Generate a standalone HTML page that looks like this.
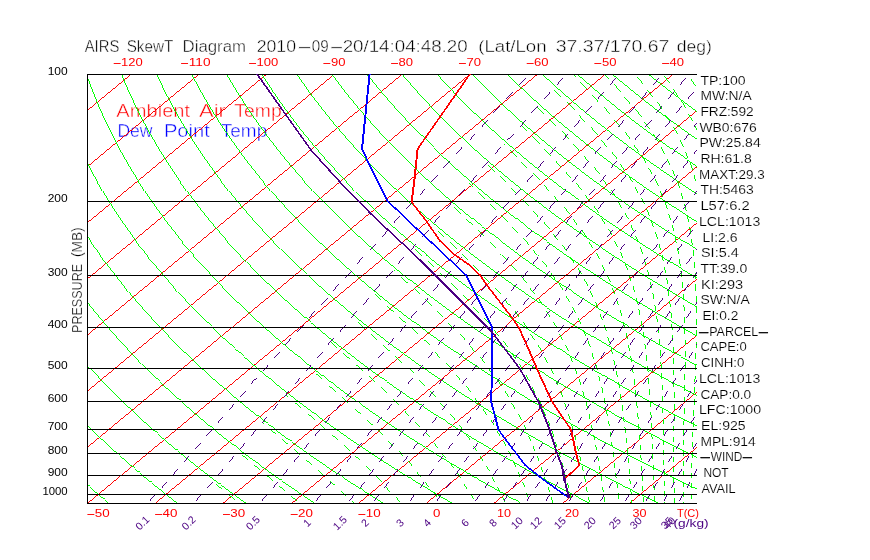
<!DOCTYPE html>
<html><head><meta charset="utf-8"><title>AIRS SkewT Diagram</title>
<style>html,body{margin:0;padding:0;background:#fff}svg{display:block}</style></head>
<body><svg width="870" height="560" viewBox="0 0 870 560" font-family="Liberation Sans, sans-serif">
<rect width="870" height="560" fill="#fff"/>
<defs><clipPath id="c"><rect x="87.0" y="74.0" width="610.0" height="430.0"/></clipPath></defs>
<g>
<text y="116.6" font-size="18.7" fill="#ff0000" stroke="#fff" stroke-width="0.45"><tspan x="116.3" textLength="79.4" lengthAdjust="spacingAndGlyphs">Ambient </tspan><tspan x="199.1" textLength="32.9" lengthAdjust="spacingAndGlyphs">Air </tspan><tspan x="234.3" textLength="47.4" lengthAdjust="spacingAndGlyphs">Temp</tspan></text>
<text y="137.4" font-size="18.7" fill="#0000ff" stroke="#fff" stroke-width="0.45"><tspan x="117.4" textLength="40.0" lengthAdjust="spacingAndGlyphs">Dew </tspan><tspan x="163.9" textLength="51.6" lengthAdjust="spacingAndGlyphs">Point </tspan><tspan x="220.8" textLength="46.4" lengthAdjust="spacingAndGlyphs">Temp</tspan></text>
</g>
<g clip-path="url(#c)" shape-rendering="crispEdges">
<path d="M-454.7 503.5 L63.1 74.5" stroke="#ff0000" stroke-width="0.99" fill="none"/>
<path d="M-387.0 503.5 L130.8 74.5" stroke="#ff0000" stroke-width="0.99" fill="none"/>
<path d="M-319.2 503.5 L198.6 74.5" stroke="#ff0000" stroke-width="0.99" fill="none"/>
<path d="M-251.5 503.5 L266.3 74.5" stroke="#ff0000" stroke-width="0.99" fill="none"/>
<path d="M-183.7 503.5 L334.1 74.5" stroke="#ff0000" stroke-width="0.99" fill="none"/>
<path d="M-116.0 503.5 L401.8 74.5" stroke="#ff0000" stroke-width="0.99" fill="none"/>
<path d="M-48.2 503.5 L469.6 74.5" stroke="#ff0000" stroke-width="0.99" fill="none"/>
<path d="M19.5 503.5 L537.3 74.5" stroke="#ff0000" stroke-width="0.99" fill="none"/>
<path d="M87.3 503.5 L605.1 74.5" stroke="#ff0000" stroke-width="0.99" fill="none"/>
<path d="M155.0 503.5 L672.8 74.5" stroke="#ff0000" stroke-width="0.99" fill="none"/>
<path d="M222.8 503.5 L740.6 74.5" stroke="#ff0000" stroke-width="0.99" fill="none"/>
<path d="M290.5 503.5 L808.3 74.5" stroke="#ff0000" stroke-width="0.99" fill="none"/>
<path d="M358.3 503.5 L876.1 74.5" stroke="#ff0000" stroke-width="0.99" fill="none"/>
<path d="M426.0 503.5 L943.8 74.5" stroke="#ff0000" stroke-width="0.99" fill="none"/>
<path d="M493.8 503.5 L1011.6 74.5" stroke="#ff0000" stroke-width="0.99" fill="none"/>
<path d="M561.5 503.5 L1079.3 74.5" stroke="#ff0000" stroke-width="0.99" fill="none"/>
<path d="M629.3 503.5 L1147.1 74.5" stroke="#ff0000" stroke-width="0.99" fill="none"/>
<path d="M697.0 503.5 L1214.8 74.5" stroke="#ff0000" stroke-width="0.99" fill="none"/>
<path d="M108.8 503.3 L106.7 501.6 L104.6 499.8 L102.5 498.0 L100.4 496.2 L98.3 494.4 L96.1 492.6 L94.0 490.7 L91.9 488.8 L89.7 487.0 L87.5 485.0 L85.4 483.1 L83.2 481.2 L81.0 479.2 L78.8 477.2 L76.6 475.2 L74.4 473.1 L72.1 471.1 L69.9 469.0 L67.6 466.9 L65.4 464.7 L63.1 462.6 L60.8 460.4 L58.5 458.2 L56.2 456.0 L53.9 453.7 L51.6 451.4 L49.3 449.1 L46.9 446.7 L44.6 444.3 L42.2 441.9 L39.8 439.5 L37.4 437.0 L35.0 434.5 L32.6 431.9 L30.2 429.3 L27.8 426.7 L25.3 424.0 L22.8 421.3 L20.4 418.6 L17.9 415.8 L15.4 413.0 L12.9 410.1 L10.3 407.2 L7.8 404.2 L5.3 401.2 L2.7 398.1 L0.1 395.0 L-2.5 391.8 L-5.1 388.6 L-7.7 385.3 L-10.3 382.0 L-13.0 378.6 L-15.6 375.1 L-18.3 371.6 L-21.0 367.9 L-23.7 364.3 L-26.4 360.5 L-29.1 356.6 L-31.8 352.7 L-34.6 348.7 L-37.3 344.6 L-40.1 340.4 L-42.9 336.1 L-45.7 331.7 L-48.5 327.2 L-51.3 322.6 L-54.1 317.9 L-57.0 313.0 L-59.8 308.0 L-62.7 302.9 L-65.5 297.6 L-68.4 292.1 L-71.3 286.5 L-74.1 280.7 L-77.0 274.7 L-79.9 268.6 L-82.8 262.2 L-85.6 255.5 L-88.5 248.6 L-91.3 241.5 L-94.1 234.0 L-96.9 226.3 L-99.7 218.2 L-102.4 209.7 L-105.0 200.8 L-107.6 191.4 L-110.2 181.5 L-112.6 171.1 L-114.9 160.1 L-117.1 148.3 L-119.0 135.7 L-120.8 122.2 L-122.2 107.6 L-123.3 91.7 L-124.0 74.3" stroke="#00ff00" stroke-width="0.99" fill="none"/>
<path d="M177.5 503.3 L175.2 501.6 L172.9 499.8 L170.6 498.0 L168.3 496.2 L166.0 494.4 L163.7 492.6 L161.4 490.7 L159.0 488.8 L156.7 487.0 L154.3 485.0 L151.9 483.1 L149.5 481.2 L147.2 479.2 L144.7 477.2 L142.3 475.2 L139.9 473.1 L137.5 471.1 L135.0 469.0 L132.5 466.9 L130.1 464.7 L127.6 462.6 L125.1 460.4 L122.6 458.2 L120.0 456.0 L117.5 453.7 L114.9 451.4 L112.4 449.1 L109.8 446.7 L107.2 444.3 L104.6 441.9 L102.0 439.5 L99.4 437.0 L96.7 434.5 L94.0 431.9 L91.4 429.3 L88.7 426.7 L86.0 424.0 L83.3 421.3 L80.5 418.6 L77.8 415.8 L75.0 413.0 L72.2 410.1 L69.4 407.2 L66.6 404.2 L63.8 401.2 L61.0 398.1 L58.1 395.0 L55.2 391.8 L52.3 388.6 L49.4 385.3 L46.5 382.0 L43.5 378.6 L40.6 375.1 L37.6 371.6 L34.6 367.9 L31.6 364.3 L28.6 360.5 L25.5 356.6 L22.4 352.7 L19.3 348.7 L16.2 344.6 L13.1 340.4 L10.0 336.1 L6.8 331.7 L3.6 327.2 L0.4 322.6 L-2.8 317.9 L-6.0 313.0 L-9.2 308.0 L-12.5 302.9 L-15.8 297.6 L-19.1 292.1 L-22.4 286.5 L-25.7 280.7 L-29.0 274.7 L-32.3 268.6 L-35.7 262.2 L-39.0 255.5 L-42.4 248.6 L-45.7 241.5 L-49.1 234.0 L-52.4 226.3 L-55.7 218.2 L-59.0 209.7 L-62.3 200.8 L-65.5 191.4 L-68.7 181.5 L-71.8 171.1 L-74.8 160.1 L-77.7 148.3 L-80.4 135.7 L-83.0 122.2 L-85.3 107.6 L-87.3 91.7 L-88.9 74.3" stroke="#00ff00" stroke-width="0.99" fill="none"/>
<path d="M246.2 503.3 L243.7 501.6 L241.2 499.8 L238.8 498.0 L236.3 496.2 L233.8 494.4 L231.2 492.6 L228.7 490.7 L226.2 488.8 L223.6 487.0 L221.1 485.0 L218.5 483.1 L215.9 481.2 L213.3 479.2 L210.7 477.2 L208.1 475.2 L205.4 473.1 L202.8 471.1 L200.1 469.0 L197.4 466.9 L194.7 464.7 L192.0 462.6 L189.3 460.4 L186.6 458.2 L183.8 456.0 L181.1 453.7 L178.3 451.4 L175.5 449.1 L172.7 446.7 L169.8 444.3 L167.0 441.9 L164.1 439.5 L161.3 437.0 L158.4 434.5 L155.5 431.9 L152.6 429.3 L149.6 426.7 L146.7 424.0 L143.7 421.3 L140.7 418.6 L137.7 415.8 L134.6 413.0 L131.6 410.1 L128.5 407.2 L125.4 404.2 L122.3 401.2 L119.2 398.1 L116.1 395.0 L112.9 391.8 L109.7 388.6 L106.5 385.3 L103.3 382.0 L100.0 378.6 L96.8 375.1 L93.5 371.6 L90.2 367.9 L86.8 364.3 L83.5 360.5 L80.1 356.6 L76.7 352.7 L73.3 348.7 L69.8 344.6 L66.3 340.4 L62.8 336.1 L59.3 331.7 L55.8 327.2 L52.2 322.6 L48.6 317.9 L45.0 313.0 L41.3 308.0 L37.7 302.9 L34.0 297.6 L30.3 292.1 L26.5 286.5 L22.8 280.7 L19.0 274.7 L15.2 268.6 L11.4 262.2 L7.6 255.5 L3.7 248.6 L-0.2 241.5 L-4.0 234.0 L-7.9 226.3 L-11.8 218.2 L-15.7 209.7 L-19.5 200.8 L-23.4 191.4 L-27.2 181.5 L-31.0 171.1 L-34.7 160.1 L-38.3 148.3 L-41.8 135.7 L-45.2 122.2 L-48.4 107.6 L-51.3 91.7 L-53.8 74.3" stroke="#00ff00" stroke-width="0.99" fill="none"/>
<path d="M314.9 503.3 L312.2 501.6 L309.6 499.8 L306.9 498.0 L304.2 496.2 L301.5 494.4 L298.8 492.6 L296.1 490.7 L293.3 488.8 L290.6 487.0 L287.8 485.0 L285.1 483.1 L282.3 481.2 L279.5 479.2 L276.6 477.2 L273.8 475.2 L271.0 473.1 L268.1 471.1 L265.2 469.0 L262.3 466.9 L259.4 464.7 L256.5 462.6 L253.5 460.4 L250.6 458.2 L247.6 456.0 L244.6 453.7 L241.6 451.4 L238.6 449.1 L235.5 446.7 L232.5 444.3 L229.4 441.9 L226.3 439.5 L223.2 437.0 L220.1 434.5 L216.9 431.9 L213.7 429.3 L210.5 426.7 L207.3 424.0 L204.1 421.3 L200.8 418.6 L197.6 415.8 L194.3 413.0 L191.0 410.1 L187.6 407.2 L184.3 404.2 L180.9 401.2 L177.5 398.1 L174.0 395.0 L170.6 391.8 L167.1 388.6 L163.6 385.3 L160.1 382.0 L156.5 378.6 L153.0 375.1 L149.4 371.6 L145.7 367.9 L142.1 364.3 L138.4 360.5 L134.7 356.6 L130.9 352.7 L127.2 348.7 L123.4 344.6 L119.6 340.4 L115.7 336.1 L111.8 331.7 L107.9 327.2 L104.0 322.6 L100.0 317.9 L96.0 313.0 L91.9 308.0 L87.9 302.9 L83.8 297.6 L79.6 292.1 L75.5 286.5 L71.3 280.7 L67.0 274.7 L62.8 268.6 L58.5 262.2 L54.1 255.5 L49.8 248.6 L45.4 241.5 L41.0 234.0 L36.6 226.3 L32.1 218.2 L27.7 209.7 L23.2 200.8 L18.8 191.4 L14.3 181.5 L9.9 171.1 L5.4 160.1 L1.1 148.3 L-3.2 135.7 L-7.4 122.2 L-11.4 107.6 L-15.2 91.7 L-18.8 74.3" stroke="#00ff00" stroke-width="0.99" fill="none"/>
<path d="M383.6 503.3 L380.7 501.6 L377.9 499.8 L375.0 498.0 L372.2 496.2 L369.3 494.4 L366.4 492.6 L363.4 490.7 L360.5 488.8 L357.6 487.0 L354.6 485.0 L351.6 483.1 L348.6 481.2 L345.6 479.2 L342.6 477.2 L339.5 475.2 L336.5 473.1 L333.4 471.1 L330.3 469.0 L327.2 466.9 L324.1 464.7 L320.9 462.6 L317.8 460.4 L314.6 458.2 L311.4 456.0 L308.2 453.7 L304.9 451.4 L301.7 449.1 L298.4 446.7 L295.1 444.3 L291.8 441.9 L288.5 439.5 L285.1 437.0 L281.7 434.5 L278.3 431.9 L274.9 429.3 L271.5 426.7 L268.0 424.0 L264.5 421.3 L261.0 418.6 L257.5 415.8 L253.9 413.0 L250.3 410.1 L246.7 407.2 L243.1 404.2 L239.4 401.2 L235.7 398.1 L232.0 395.0 L228.3 391.8 L224.5 388.6 L220.7 385.3 L216.9 382.0 L213.0 378.6 L209.2 375.1 L205.2 371.6 L201.3 367.9 L197.3 364.3 L193.3 360.5 L189.3 356.6 L185.2 352.7 L181.1 348.7 L177.0 344.6 L172.8 340.4 L168.6 336.1 L164.3 331.7 L160.0 327.2 L155.7 322.6 L151.4 317.9 L147.0 313.0 L142.5 308.0 L138.0 302.9 L133.5 297.6 L129.0 292.1 L124.4 286.5 L119.7 280.7 L115.0 274.7 L110.3 268.6 L105.5 262.2 L100.7 255.5 L95.9 248.6 L91.0 241.5 L86.1 234.0 L81.1 226.3 L76.1 218.2 L71.0 209.7 L66.0 200.8 L60.9 191.4 L55.8 181.5 L50.7 171.1 L45.6 160.1 L40.5 148.3 L35.4 135.7 L30.4 122.2 L25.5 107.6 L20.8 91.7 L16.3 74.3" stroke="#00ff00" stroke-width="0.99" fill="none"/>
<path d="M452.3 503.3 L449.3 501.6 L446.2 499.8 L443.2 498.0 L440.1 496.2 L437.0 494.4 L433.9 492.6 L430.8 490.7 L427.7 488.8 L424.5 487.0 L421.4 485.0 L418.2 483.1 L415.0 481.2 L411.8 479.2 L408.5 477.2 L405.3 475.2 L402.0 473.1 L398.7 471.1 L395.4 469.0 L392.1 466.9 L388.8 464.7 L385.4 462.6 L382.0 460.4 L378.6 458.2 L375.2 456.0 L371.7 453.7 L368.3 451.4 L364.8 449.1 L361.3 446.7 L357.8 444.3 L354.2 441.9 L350.6 439.5 L347.0 437.0 L343.4 434.5 L339.8 431.9 L336.1 429.3 L332.4 426.7 L328.7 424.0 L324.9 421.3 L321.2 418.6 L317.4 415.8 L313.5 413.0 L309.7 410.1 L305.8 407.2 L301.9 404.2 L298.0 401.2 L294.0 398.1 L290.0 395.0 L286.0 391.8 L281.9 388.6 L277.8 385.3 L273.7 382.0 L269.5 378.6 L265.4 375.1 L261.1 371.6 L256.9 367.9 L252.6 364.3 L248.2 360.5 L243.9 356.6 L239.5 352.7 L235.0 348.7 L230.5 344.6 L226.0 340.4 L221.4 336.1 L216.8 331.7 L212.2 327.2 L207.5 322.6 L202.7 317.9 L197.9 313.0 L193.1 308.0 L188.2 302.9 L183.3 297.6 L178.3 292.1 L173.3 286.5 L168.2 280.7 L163.0 274.7 L157.9 268.6 L152.6 262.2 L147.3 255.5 L142.0 248.6 L136.6 241.5 L131.1 234.0 L125.6 226.3 L120.0 218.2 L114.4 209.7 L108.7 200.8 L103.0 191.4 L97.3 181.5 L91.5 171.1 L85.7 160.1 L79.8 148.3 L74.0 135.7 L68.2 122.2 L62.5 107.6 L56.8 91.7 L51.4 74.3" stroke="#00ff00" stroke-width="0.99" fill="none"/>
<path d="M521.0 503.3 L517.8 501.6 L514.5 499.8 L511.3 498.0 L508.0 496.2 L504.8 494.4 L501.5 492.6 L498.2 490.7 L494.8 488.8 L491.5 487.0 L488.1 485.0 L484.7 483.1 L481.3 481.2 L477.9 479.2 L474.5 477.2 L471.0 475.2 L467.5 473.1 L464.0 471.1 L460.5 469.0 L457.0 466.9 L453.4 464.7 L449.8 462.6 L446.2 460.4 L442.6 458.2 L439.0 456.0 L435.3 453.7 L431.6 451.4 L427.9 449.1 L424.2 446.7 L420.4 444.3 L416.6 441.9 L412.8 439.5 L408.9 437.0 L405.1 434.5 L401.2 431.9 L397.3 429.3 L393.3 426.7 L389.4 424.0 L385.3 421.3 L381.3 418.6 L377.3 415.8 L373.2 413.0 L369.1 410.1 L364.9 407.2 L360.7 404.2 L356.5 401.2 L352.3 398.1 L348.0 395.0 L343.7 391.8 L339.3 388.6 L334.9 385.3 L330.5 382.0 L326.0 378.6 L321.5 375.1 L317.0 371.6 L312.4 367.9 L307.8 364.3 L303.2 360.5 L298.5 356.6 L293.7 352.7 L288.9 348.7 L284.1 344.6 L279.2 340.4 L274.3 336.1 L269.3 331.7 L264.3 327.2 L259.2 322.6 L254.1 317.9 L248.9 313.0 L243.7 308.0 L238.4 302.9 L233.0 297.6 L227.6 292.1 L222.2 286.5 L216.7 280.7 L211.1 274.7 L205.4 268.6 L199.7 262.2 L193.9 255.5 L188.1 248.6 L182.1 241.5 L176.2 234.0 L170.1 226.3 L164.0 218.2 L157.8 209.7 L151.5 200.8 L145.2 191.4 L138.8 181.5 L132.3 171.1 L125.8 160.1 L119.2 148.3 L112.6 135.7 L106.0 122.2 L99.4 107.6 L92.9 91.7 L86.4 74.3" stroke="#00ff00" stroke-width="0.99" fill="none"/>
<path d="M589.7 503.3 L586.3 501.6 L582.9 499.8 L579.4 498.0 L576.0 496.2 L572.5 494.4 L569.0 492.6 L565.5 490.7 L562.0 488.8 L558.4 487.0 L554.9 485.0 L551.3 483.1 L547.7 481.2 L544.1 479.2 L540.4 477.2 L536.8 475.2 L533.1 473.1 L529.4 471.1 L525.6 469.0 L521.9 466.9 L518.1 464.7 L514.3 462.6 L510.5 460.4 L506.6 458.2 L502.8 456.0 L498.9 453.7 L494.9 451.4 L491.0 449.1 L487.0 446.7 L483.0 444.3 L479.0 441.9 L474.9 439.5 L470.9 437.0 L466.8 434.5 L462.6 431.9 L458.4 429.3 L454.3 426.7 L450.0 424.0 L445.8 421.3 L441.5 418.6 L437.2 415.8 L432.8 413.0 L428.4 410.1 L424.0 407.2 L419.5 404.2 L415.0 401.2 L410.5 398.1 L406.0 395.0 L401.3 391.8 L396.7 388.6 L392.0 385.3 L387.3 382.0 L382.5 378.6 L377.7 375.1 L372.9 371.6 L368.0 367.9 L363.1 364.3 L358.1 360.5 L353.1 356.6 L348.0 352.7 L342.8 348.7 L337.7 344.6 L332.4 340.4 L327.2 336.1 L321.8 331.7 L316.4 327.2 L311.0 322.6 L305.5 317.9 L299.9 313.0 L294.3 308.0 L288.6 302.9 L282.8 297.6 L277.0 292.1 L271.1 286.5 L265.1 280.7 L259.1 274.7 L253.0 268.6 L246.8 262.2 L240.5 255.5 L234.1 248.6 L227.7 241.5 L221.2 234.0 L214.6 226.3 L207.9 218.2 L201.1 209.7 L194.3 200.8 L187.3 191.4 L180.2 181.5 L173.1 171.1 L165.9 160.1 L158.6 148.3 L151.2 135.7 L143.8 122.2 L136.4 107.6 L128.9 91.7 L121.5 74.3" stroke="#00ff00" stroke-width="0.99" fill="none"/>
<path d="M658.4 503.3 L654.8 501.6 L651.2 499.8 L647.6 498.0 L643.9 496.2 L640.3 494.4 L636.6 492.6 L632.9 490.7 L629.2 488.8 L625.4 487.0 L621.6 485.0 L617.9 483.1 L614.1 481.2 L610.2 479.2 L606.4 477.2 L602.5 475.2 L598.6 473.1 L594.7 471.1 L590.7 469.0 L586.8 466.9 L582.8 464.7 L578.8 462.6 L574.7 460.4 L570.6 458.2 L566.5 456.0 L562.4 453.7 L558.3 451.4 L554.1 449.1 L549.9 446.7 L545.7 444.3 L541.4 441.9 L537.1 439.5 L532.8 437.0 L528.4 434.5 L524.0 431.9 L519.6 429.3 L515.2 426.7 L510.7 424.0 L506.2 421.3 L501.6 418.6 L497.1 415.8 L492.4 413.0 L487.8 410.1 L483.1 407.2 L478.4 404.2 L473.6 401.2 L468.8 398.1 L463.9 395.0 L459.0 391.8 L454.1 388.6 L449.1 385.3 L444.1 382.0 L439.0 378.6 L433.9 375.1 L428.8 371.6 L423.6 367.9 L418.3 364.3 L413.0 360.5 L407.6 356.6 L402.2 352.7 L396.8 348.7 L391.2 344.6 L385.7 340.4 L380.0 336.1 L374.3 331.7 L368.6 327.2 L362.7 322.6 L356.8 317.9 L350.9 313.0 L344.9 308.0 L338.8 302.9 L332.6 297.6 L326.3 292.1 L320.0 286.5 L313.6 280.7 L307.1 274.7 L300.5 268.6 L293.8 262.2 L287.1 255.5 L280.2 248.6 L273.3 241.5 L266.2 234.0 L259.1 226.3 L251.8 218.2 L244.5 209.7 L237.0 200.8 L229.4 191.4 L221.7 181.5 L213.9 171.1 L206.0 160.1 L198.0 148.3 L189.9 135.7 L181.6 122.2 L173.3 107.6 L165.0 91.7 L156.6 74.3" stroke="#00ff00" stroke-width="0.99" fill="none"/>
<path d="M727.1 503.3 L723.3 501.6 L719.5 499.8 L715.7 498.0 L711.9 496.2 L708.0 494.4 L704.1 492.6 L700.2 490.7 L696.3 488.8 L692.4 487.0 L688.4 485.0 L684.4 483.1 L680.4 481.2 L676.4 479.2 L672.3 477.2 L668.2 475.2 L664.1 473.1 L660.0 471.1 L655.8 469.0 L651.7 466.9 L647.4 464.7 L643.2 462.6 L638.9 460.4 L634.7 458.2 L630.3 456.0 L626.0 453.7 L621.6 451.4 L617.2 449.1 L612.8 446.7 L608.3 444.3 L603.8 441.9 L599.3 439.5 L594.7 437.0 L590.1 434.5 L585.5 431.9 L580.8 429.3 L576.1 426.7 L571.4 424.0 L566.6 421.3 L561.8 418.6 L556.9 415.8 L552.1 413.0 L547.1 410.1 L542.2 407.2 L537.2 404.2 L532.1 401.2 L527.0 398.1 L521.9 395.0 L516.7 391.8 L511.5 388.6 L506.2 385.3 L500.9 382.0 L495.5 378.6 L490.1 375.1 L484.7 371.6 L479.1 367.9 L473.6 364.3 L467.9 360.5 L462.2 356.6 L456.5 352.7 L450.7 348.7 L444.8 344.6 L438.9 340.4 L432.9 336.1 L426.8 331.7 L420.7 327.2 L414.5 322.6 L408.2 317.9 L401.9 313.0 L395.4 308.0 L388.9 302.9 L382.3 297.6 L375.7 292.1 L368.9 286.5 L362.1 280.7 L355.1 274.7 L348.1 268.6 L340.9 262.2 L333.7 255.5 L326.3 248.6 L318.9 241.5 L311.3 234.0 L303.6 226.3 L295.8 218.2 L287.8 209.7 L279.8 200.8 L271.6 191.4 L263.2 181.5 L254.7 171.1 L246.1 160.1 L237.4 148.3 L228.5 135.7 L219.4 122.2 L210.3 107.6 L201.0 91.7 L191.6 74.3" stroke="#00ff00" stroke-width="0.99" fill="none"/>
<path d="M795.8 503.3 L791.8 501.6 L787.8 499.8 L783.8 498.0 L779.8 496.2 L775.8 494.4 L771.7 492.6 L767.6 490.7 L763.5 488.8 L759.3 487.0 L755.2 485.0 L751.0 483.1 L746.8 481.2 L742.5 479.2 L738.3 477.2 L734.0 475.2 L729.7 473.1 L725.3 471.1 L720.9 469.0 L716.5 466.9 L712.1 464.7 L707.7 462.6 L703.2 460.4 L698.7 458.2 L694.1 456.0 L689.5 453.7 L684.9 451.4 L680.3 449.1 L675.6 446.7 L670.9 444.3 L666.2 441.9 L661.4 439.5 L656.6 437.0 L651.8 434.5 L646.9 431.9 L642.0 429.3 L637.0 426.7 L632.0 424.0 L627.0 421.3 L622.0 418.6 L616.8 415.8 L611.7 413.0 L606.5 410.1 L601.3 407.2 L596.0 404.2 L590.7 401.2 L585.3 398.1 L579.9 395.0 L574.4 391.8 L568.9 388.6 L563.3 385.3 L557.7 382.0 L552.0 378.6 L546.3 375.1 L540.5 371.6 L534.7 367.9 L528.8 364.3 L522.8 360.5 L516.8 356.6 L510.7 352.7 L504.6 348.7 L498.4 344.6 L492.1 340.4 L485.8 336.1 L479.3 331.7 L472.8 327.2 L466.2 322.6 L459.6 317.9 L452.8 313.0 L446.0 308.0 L439.1 302.9 L432.1 297.6 L425.0 292.1 L417.8 286.5 L410.5 280.7 L403.1 274.7 L395.6 268.6 L388.0 262.2 L380.3 255.5 L372.4 248.6 L364.4 241.5 L356.3 234.0 L348.1 226.3 L339.7 218.2 L331.2 209.7 L322.5 200.8 L313.7 191.4 L304.7 181.5 L295.6 171.1 L286.2 160.1 L276.7 148.3 L267.1 135.7 L257.2 122.2 L247.2 107.6 L237.0 91.7 L226.7 74.3" stroke="#00ff00" stroke-width="0.99" fill="none"/>
<path d="M864.5 503.3 L860.3 501.6 L856.2 499.8 L852.0 498.0 L847.8 496.2 L843.5 494.4 L839.2 492.6 L835.0 490.7 L830.6 488.8 L826.3 487.0 L821.9 485.0 L817.5 483.1 L813.1 481.2 L808.7 479.2 L804.2 477.2 L799.7 475.2 L795.2 473.1 L790.6 471.1 L786.0 469.0 L781.4 466.9 L776.8 464.7 L772.1 462.6 L767.4 460.4 L762.7 458.2 L757.9 456.0 L753.1 453.7 L748.3 451.4 L743.4 449.1 L738.5 446.7 L733.6 444.3 L728.6 441.9 L723.6 439.5 L718.5 437.0 L713.5 434.5 L708.3 431.9 L703.2 429.3 L698.0 426.7 L692.7 424.0 L687.4 421.3 L682.1 418.6 L676.7 415.8 L671.3 413.0 L665.9 410.1 L660.4 407.2 L654.8 404.2 L649.2 401.2 L643.6 398.1 L637.9 395.0 L632.1 391.8 L626.3 388.6 L620.4 385.3 L614.5 382.0 L608.5 378.6 L602.5 375.1 L596.4 371.6 L590.3 367.9 L584.1 364.3 L577.8 360.5 L571.4 356.6 L565.0 352.7 L558.5 348.7 L552.0 344.6 L545.3 340.4 L538.6 336.1 L531.8 331.7 L525.0 327.2 L518.0 322.6 L511.0 317.9 L503.8 313.0 L496.6 308.0 L489.3 302.9 L481.9 297.6 L474.3 292.1 L466.7 286.5 L459.0 280.7 L451.1 274.7 L443.2 268.6 L435.1 262.2 L426.9 255.5 L418.5 248.6 L410.0 241.5 L401.4 234.0 L392.6 226.3 L383.7 218.2 L374.6 209.7 L365.3 200.8 L355.8 191.4 L346.2 181.5 L336.4 171.1 L326.4 160.1 L316.1 148.3 L305.7 135.7 L295.0 122.2 L284.2 107.6 L273.1 91.7 L261.8 74.3" stroke="#00ff00" stroke-width="0.99" fill="none"/>
<path d="M933.2 503.3 L928.9 501.6 L924.5 499.8 L920.1 498.0 L915.7 496.2 L911.3 494.4 L906.8 492.6 L902.3 490.7 L897.8 488.8 L893.3 487.0 L888.7 485.0 L884.1 483.1 L879.5 481.2 L874.8 479.2 L870.2 477.2 L865.5 475.2 L860.7 473.1 L856.0 471.1 L851.2 469.0 L846.3 466.9 L841.5 464.7 L836.6 462.6 L831.6 460.4 L826.7 458.2 L821.7 456.0 L816.7 453.7 L811.6 451.4 L806.5 449.1 L801.4 446.7 L796.2 444.3 L791.0 441.9 L785.7 439.5 L780.5 437.0 L775.1 434.5 L769.8 431.9 L764.3 429.3 L758.9 426.7 L753.4 424.0 L747.9 421.3 L742.3 418.6 L736.6 415.8 L731.0 413.0 L725.2 410.1 L719.5 407.2 L713.6 404.2 L707.7 401.2 L701.8 398.1 L695.8 395.0 L689.8 391.8 L683.7 388.6 L677.5 385.3 L671.3 382.0 L665.0 378.6 L658.7 375.1 L652.3 371.6 L645.8 367.9 L639.3 364.3 L632.7 360.5 L626.0 356.6 L619.3 352.7 L612.4 348.7 L605.5 344.6 L598.5 340.4 L591.5 336.1 L584.3 331.7 L577.1 327.2 L569.8 322.6 L562.3 317.9 L554.8 313.0 L547.2 308.0 L539.5 302.9 L531.6 297.6 L523.7 292.1 L515.6 286.5 L507.4 280.7 L499.1 274.7 L490.7 268.6 L482.1 262.2 L473.4 255.5 L464.6 248.6 L455.6 241.5 L446.4 234.0 L437.1 226.3 L427.6 218.2 L417.9 209.7 L408.0 200.8 L398.0 191.4 L387.7 181.5 L377.2 171.1 L366.5 160.1 L355.5 148.3 L344.3 135.7 L332.8 122.2 L321.1 107.6 L309.1 91.7 L296.8 74.3" stroke="#00ff00" stroke-width="0.99" fill="none"/>
<path d="M1001.9 503.3 L997.4 501.6 L992.8 499.8 L988.2 498.0 L983.6 496.2 L979.0 494.4 L974.4 492.6 L969.7 490.7 L965.0 488.8 L960.2 487.0 L955.5 485.0 L950.7 483.1 L945.8 481.2 L941.0 479.2 L936.1 477.2 L931.2 475.2 L926.2 473.1 L921.3 471.1 L916.3 469.0 L911.2 466.9 L906.1 464.7 L901.0 462.6 L895.9 460.4 L890.7 458.2 L885.5 456.0 L880.2 453.7 L874.9 451.4 L869.6 449.1 L864.2 446.7 L858.8 444.3 L853.4 441.9 L847.9 439.5 L842.4 437.0 L836.8 434.5 L831.2 431.9 L825.5 429.3 L819.8 426.7 L814.1 424.0 L808.3 421.3 L802.4 418.6 L796.5 415.8 L790.6 413.0 L784.6 410.1 L778.5 407.2 L772.4 404.2 L766.3 401.2 L760.1 398.1 L753.8 395.0 L747.5 391.8 L741.1 388.6 L734.6 385.3 L728.1 382.0 L721.5 378.6 L714.9 375.1 L708.2 371.6 L701.4 367.9 L694.5 364.3 L687.6 360.5 L680.6 356.6 L673.5 352.7 L666.4 348.7 L659.1 344.6 L651.8 340.4 L644.3 336.1 L636.8 331.7 L629.2 327.2 L621.5 322.6 L613.7 317.9 L605.8 313.0 L597.8 308.0 L589.6 302.9 L581.4 297.6 L573.0 292.1 L564.5 286.5 L555.9 280.7 L547.2 274.7 L538.3 268.6 L529.2 262.2 L520.0 255.5 L510.7 248.6 L501.2 241.5 L491.5 234.0 L481.6 226.3 L471.5 218.2 L461.3 209.7 L450.8 200.8 L440.1 191.4 L429.2 181.5 L418.0 171.1 L406.6 160.1 L394.9 148.3 L382.9 135.7 L370.6 122.2 L358.0 107.6 L345.1 91.7 L331.9 74.3" stroke="#00ff00" stroke-width="0.99" fill="none"/>
<path d="M1070.6 503.3 L1065.9 501.6 L1061.1 499.8 L1056.4 498.0 L1051.6 496.2 L1046.8 494.4 L1041.9 492.6 L1037.0 490.7 L1032.1 488.8 L1027.2 487.0 L1022.2 485.0 L1017.2 483.1 L1012.2 481.2 L1007.1 479.2 L1002.1 477.2 L996.9 475.2 L991.8 473.1 L986.6 471.1 L981.4 469.0 L976.1 466.9 L970.8 464.7 L965.5 462.6 L960.1 460.4 L954.7 458.2 L949.3 456.0 L943.8 453.7 L938.3 451.4 L932.7 449.1 L927.1 446.7 L921.5 444.3 L915.8 441.9 L910.1 439.5 L904.3 437.0 L898.5 434.5 L892.6 431.9 L886.7 429.3 L880.8 426.7 L874.7 424.0 L868.7 421.3 L862.6 418.6 L856.4 415.8 L850.2 413.0 L844.0 410.1 L837.6 407.2 L831.3 404.2 L824.8 401.2 L818.3 398.1 L811.8 395.0 L805.2 391.8 L798.5 388.6 L791.7 385.3 L784.9 382.0 L778.0 378.6 L771.1 375.1 L764.1 371.6 L757.0 367.9 L749.8 364.3 L742.5 360.5 L735.2 356.6 L727.8 352.7 L720.3 348.7 L712.7 344.6 L705.0 340.4 L697.2 336.1 L689.3 331.7 L681.3 327.2 L673.3 322.6 L665.1 317.9 L656.8 313.0 L648.4 308.0 L639.8 302.9 L631.2 297.6 L622.4 292.1 L613.4 286.5 L604.4 280.7 L595.2 274.7 L585.8 268.6 L576.3 262.2 L566.6 255.5 L556.8 248.6 L546.7 241.5 L536.5 234.0 L526.1 226.3 L515.5 218.2 L504.6 209.7 L493.6 200.8 L482.2 191.4 L470.7 181.5 L458.8 171.1 L446.7 160.1 L434.3 148.3 L421.5 135.7 L408.4 122.2 L395.0 107.6 L381.2 91.7 L367.0 74.3" stroke="#00ff00" stroke-width="0.99" fill="none"/>
<path d="M1139.3 503.3 L1134.4 501.6 L1129.5 499.8 L1124.5 498.0 L1119.5 496.2 L1114.5 494.4 L1109.5 492.6 L1104.4 490.7 L1099.3 488.8 L1094.2 487.0 L1089.0 485.0 L1083.8 483.1 L1078.6 481.2 L1073.3 479.2 L1068.0 477.2 L1062.7 475.2 L1057.3 473.1 L1051.9 471.1 L1046.5 469.0 L1041.0 466.9 L1035.5 464.7 L1029.9 462.6 L1024.3 460.4 L1018.7 458.2 L1013.1 456.0 L1007.4 453.7 L1001.6 451.4 L995.8 449.1 L990.0 446.7 L984.1 444.3 L978.2 441.9 L972.2 439.5 L966.2 437.0 L960.2 434.5 L954.0 431.9 L947.9 429.3 L941.7 426.7 L935.4 424.0 L929.1 421.3 L922.7 418.6 L916.3 415.8 L909.9 413.0 L903.3 410.1 L896.7 407.2 L890.1 404.2 L883.4 401.2 L876.6 398.1 L869.8 395.0 L862.9 391.8 L855.9 388.6 L848.8 385.3 L841.7 382.0 L834.5 378.6 L827.3 375.1 L819.9 371.6 L812.5 367.9 L805.0 364.3 L797.5 360.5 L789.8 356.6 L782.0 352.7 L774.2 348.7 L766.2 344.6 L758.2 340.4 L750.1 336.1 L741.8 331.7 L733.5 327.2 L725.0 322.6 L716.4 317.9 L707.8 313.0 L698.9 308.0 L690.0 302.9 L680.9 297.6 L671.7 292.1 L662.4 286.5 L652.8 280.7 L643.2 274.7 L633.4 268.6 L623.4 262.2 L613.2 255.5 L602.9 248.6 L592.3 241.5 L581.6 234.0 L570.6 226.3 L559.4 218.2 L548.0 209.7 L536.3 200.8 L524.4 191.4 L512.1 181.5 L499.6 171.1 L486.8 160.1 L473.6 148.3 L460.1 135.7 L446.2 122.2 L431.9 107.6 L417.2 91.7 L402.0 74.3" stroke="#00ff00" stroke-width="0.99" fill="none"/>
<path d="M1208.0 503.3 L1202.9 501.6 L1197.8 499.8 L1192.6 498.0 L1187.5 496.2 L1182.3 494.4 L1177.0 492.6 L1171.8 490.7 L1166.5 488.8 L1161.1 487.0 L1155.8 485.0 L1150.4 483.1 L1144.9 481.2 L1139.5 479.2 L1134.0 477.2 L1128.4 475.2 L1122.8 473.1 L1117.2 471.1 L1111.6 469.0 L1105.9 466.9 L1100.2 464.7 L1094.4 462.6 L1088.6 460.4 L1082.7 458.2 L1076.8 456.0 L1070.9 453.7 L1064.9 451.4 L1058.9 449.1 L1052.9 446.7 L1046.7 444.3 L1040.6 441.9 L1034.4 439.5 L1028.1 437.0 L1021.8 434.5 L1015.5 431.9 L1009.1 429.3 L1002.6 426.7 L996.1 424.0 L989.5 421.3 L982.9 418.6 L976.2 415.8 L969.5 413.0 L962.7 410.1 L955.8 407.2 L948.9 404.2 L941.9 401.2 L934.9 398.1 L927.7 395.0 L920.5 391.8 L913.3 388.6 L905.9 385.3 L898.5 382.0 L891.0 378.6 L883.5 375.1 L875.8 371.6 L868.1 367.9 L860.3 364.3 L852.4 360.5 L844.4 356.6 L836.3 352.7 L828.1 348.7 L819.8 344.6 L811.4 340.4 L802.9 336.1 L794.3 331.7 L785.6 327.2 L776.8 322.6 L767.8 317.9 L758.7 313.0 L749.5 308.0 L740.2 302.9 L730.7 297.6 L721.0 292.1 L711.3 286.5 L701.3 280.7 L691.2 274.7 L680.9 268.6 L670.5 262.2 L659.8 255.5 L648.9 248.6 L637.9 241.5 L626.6 234.0 L615.1 226.3 L603.3 218.2 L591.3 209.7 L579.1 200.8 L566.5 191.4 L553.6 181.5 L540.4 171.1 L526.9 160.1 L513.0 148.3 L498.7 135.7 L484.0 122.2 L468.9 107.6 L453.2 91.7 L437.1 74.3" stroke="#00ff00" stroke-width="0.99" fill="none"/>
<path d="M1276.7 503.3 L1271.4 501.6 L1266.1 499.8 L1260.8 498.0 L1255.4 496.2 L1250.0 494.4 L1244.6 492.6 L1239.1 490.7 L1233.6 488.8 L1228.1 487.0 L1222.5 485.0 L1216.9 483.1 L1211.3 481.2 L1205.6 479.2 L1199.9 477.2 L1194.1 475.2 L1188.4 473.1 L1182.5 471.1 L1176.7 469.0 L1170.8 466.9 L1164.8 464.7 L1158.8 462.6 L1152.8 460.4 L1146.7 458.2 L1140.6 456.0 L1134.5 453.7 L1128.3 451.4 L1122.0 449.1 L1115.7 446.7 L1109.4 444.3 L1103.0 441.9 L1096.5 439.5 L1090.0 437.0 L1083.5 434.5 L1076.9 431.9 L1070.2 429.3 L1063.5 426.7 L1056.8 424.0 L1049.9 421.3 L1043.1 418.6 L1036.1 415.8 L1029.1 413.0 L1022.1 410.1 L1014.9 407.2 L1007.7 404.2 L1000.5 401.2 L993.1 398.1 L985.7 395.0 L978.2 391.8 L970.7 388.6 L963.0 385.3 L955.3 382.0 L947.5 378.6 L939.7 375.1 L931.7 371.6 L923.7 367.9 L915.5 364.3 L907.3 360.5 L899.0 356.6 L890.5 352.7 L882.0 348.7 L873.4 344.6 L864.7 340.4 L855.8 336.1 L846.8 331.7 L837.7 327.2 L828.5 322.6 L819.2 317.9 L809.7 313.0 L800.1 308.0 L790.4 302.9 L780.4 297.6 L770.4 292.1 L760.2 286.5 L749.8 280.7 L739.2 274.7 L728.5 268.6 L717.5 262.2 L706.4 255.5 L695.0 248.6 L683.5 241.5 L671.6 234.0 L659.6 226.3 L647.3 218.2 L634.7 209.7 L621.8 200.8 L608.6 191.4 L595.1 181.5 L581.3 171.1 L567.0 160.1 L552.4 148.3 L537.3 135.7 L521.8 122.2 L505.8 107.6 L489.3 91.7 L472.2 74.3" stroke="#00ff00" stroke-width="0.99" fill="none"/>
<path d="M1345.4 503.3 L1339.9 501.6 L1334.4 499.8 L1328.9 498.0 L1323.4 496.2 L1317.8 494.4 L1312.1 492.6 L1306.5 490.7 L1300.8 488.8 L1295.0 487.0 L1289.3 485.0 L1283.5 483.1 L1277.6 481.2 L1271.8 479.2 L1265.8 477.2 L1259.9 475.2 L1253.9 473.1 L1247.9 471.1 L1241.8 469.0 L1235.7 466.9 L1229.5 464.7 L1223.3 462.6 L1217.1 460.4 L1210.8 458.2 L1204.4 456.0 L1198.0 453.7 L1191.6 451.4 L1185.1 449.1 L1178.6 446.7 L1172.0 444.3 L1165.4 441.9 L1158.7 439.5 L1152.0 437.0 L1145.2 434.5 L1138.3 431.9 L1131.4 429.3 L1124.5 426.7 L1117.4 424.0 L1110.4 421.3 L1103.2 418.6 L1096.0 415.8 L1088.7 413.0 L1081.4 410.1 L1074.0 407.2 L1066.5 404.2 L1059.0 401.2 L1051.4 398.1 L1043.7 395.0 L1035.9 391.8 L1028.1 388.6 L1020.1 385.3 L1012.1 382.0 L1004.0 378.6 L995.9 375.1 L987.6 371.6 L979.2 367.9 L970.8 364.3 L962.2 360.5 L953.6 356.6 L944.8 352.7 L935.9 348.7 L927.0 344.6 L917.9 340.4 L908.7 336.1 L899.3 331.7 L889.9 327.2 L880.3 322.6 L870.6 317.9 L860.7 313.0 L850.7 308.0 L840.5 302.9 L830.2 297.6 L819.7 292.1 L809.1 286.5 L798.2 280.7 L787.2 274.7 L776.0 268.6 L764.6 262.2 L753.0 255.5 L741.1 248.6 L729.0 241.5 L716.7 234.0 L704.1 226.3 L691.2 218.2 L678.1 209.7 L664.6 200.8 L650.8 191.4 L636.6 181.5 L622.1 171.1 L607.1 160.1 L591.8 148.3 L576.0 135.7 L559.6 122.2 L542.8 107.6 L525.3 91.7 L507.2 74.3" stroke="#00ff00" stroke-width="0.99" fill="none"/>
<path d="M1414.1 503.3 L1408.5 501.6 L1402.8 499.8 L1397.0 498.0 L1391.3 496.2 L1385.5 494.4 L1379.7 492.6 L1373.8 490.7 L1367.9 488.8 L1362.0 487.0 L1356.0 485.0 L1350.0 483.1 L1344.0 481.2 L1337.9 479.2 L1331.8 477.2 L1325.6 475.2 L1319.4 473.1 L1313.2 471.1 L1306.9 469.0 L1300.6 466.9 L1294.2 464.7 L1287.8 462.6 L1281.3 460.4 L1274.8 458.2 L1268.2 456.0 L1261.6 453.7 L1254.9 451.4 L1248.2 449.1 L1241.5 446.7 L1234.7 444.3 L1227.8 441.9 L1220.9 439.5 L1213.9 437.0 L1206.8 434.5 L1199.8 431.9 L1192.6 429.3 L1185.4 426.7 L1178.1 424.0 L1170.8 421.3 L1163.4 418.6 L1155.9 415.8 L1148.4 413.0 L1140.8 410.1 L1133.1 407.2 L1125.4 404.2 L1117.5 401.2 L1109.6 398.1 L1101.7 395.0 L1093.6 391.8 L1085.5 388.6 L1077.3 385.3 L1068.9 382.0 L1060.5 378.6 L1052.1 375.1 L1043.5 371.6 L1034.8 367.9 L1026.0 364.3 L1017.1 360.5 L1008.2 356.6 L999.1 352.7 L989.9 348.7 L980.5 344.6 L971.1 340.4 L961.5 336.1 L951.8 331.7 L942.0 327.2 L932.0 322.6 L921.9 317.9 L911.7 313.0 L901.3 308.0 L890.7 302.9 L880.0 297.6 L869.1 292.1 L858.0 286.5 L846.7 280.7 L835.2 274.7 L823.6 268.6 L811.7 262.2 L799.6 255.5 L787.2 248.6 L774.6 241.5 L761.7 234.0 L748.6 226.3 L735.2 218.2 L721.4 209.7 L707.3 200.8 L692.9 191.4 L678.1 181.5 L662.9 171.1 L647.3 160.1 L631.2 148.3 L614.6 135.7 L597.4 122.2 L579.7 107.6 L561.4 91.7 L542.3 74.3" stroke="#00ff00" stroke-width="0.99" fill="none"/>
<path d="M1482.8 503.3 L1477.0 501.6 L1471.1 499.8 L1465.2 498.0 L1459.2 496.2 L1453.3 494.4 L1447.2 492.6 L1441.2 490.7 L1435.1 488.8 L1429.0 487.0 L1422.8 485.0 L1416.6 483.1 L1410.4 481.2 L1404.1 479.2 L1397.7 477.2 L1391.4 475.2 L1385.0 473.1 L1378.5 471.1 L1372.0 469.0 L1365.4 466.9 L1358.8 464.7 L1352.2 462.6 L1345.5 460.4 L1338.8 458.2 L1332.0 456.0 L1325.2 453.7 L1318.3 451.4 L1311.3 449.1 L1304.3 446.7 L1297.3 444.3 L1290.2 441.9 L1283.0 439.5 L1275.8 437.0 L1268.5 434.5 L1261.2 431.9 L1253.8 429.3 L1246.3 426.7 L1238.8 424.0 L1231.2 421.3 L1223.5 418.6 L1215.8 415.8 L1208.0 413.0 L1200.1 410.1 L1192.2 407.2 L1184.2 404.2 L1176.1 401.2 L1167.9 398.1 L1159.6 395.0 L1151.3 391.8 L1142.9 388.6 L1134.4 385.3 L1125.7 382.0 L1117.0 378.6 L1108.3 375.1 L1099.4 371.6 L1090.4 367.9 L1081.3 364.3 L1072.1 360.5 L1062.8 356.6 L1053.3 352.7 L1043.8 348.7 L1034.1 344.6 L1024.3 340.4 L1014.4 336.1 L1004.3 331.7 L994.1 327.2 L983.8 322.6 L973.3 317.9 L962.7 313.0 L951.9 308.0 L940.9 302.9 L929.7 297.6 L918.4 292.1 L906.9 286.5 L895.2 280.7 L883.3 274.7 L871.1 268.6 L858.8 262.2 L846.1 255.5 L833.3 248.6 L820.2 241.5 L806.8 234.0 L793.1 226.3 L779.1 218.2 L764.8 209.7 L750.1 200.8 L735.0 191.4 L719.6 181.5 L703.7 171.1 L687.4 160.1 L670.5 148.3 L653.2 135.7 L635.2 122.2 L616.7 107.6 L597.4 91.7 L577.4 74.3" stroke="#00ff00" stroke-width="0.99" fill="none"/>
<path d="M1551.5 503.3 L1545.5 501.6 L1539.4 499.8 L1533.3 498.0 L1527.2 496.2 L1521.0 494.4 L1514.8 492.6 L1508.6 490.7 L1502.3 488.8 L1495.9 487.0 L1489.6 485.0 L1483.2 483.1 L1476.7 481.2 L1470.2 479.2 L1463.7 477.2 L1457.1 475.2 L1450.5 473.1 L1443.8 471.1 L1437.1 469.0 L1430.3 466.9 L1423.5 464.7 L1416.7 462.6 L1409.8 460.4 L1402.8 458.2 L1395.8 456.0 L1388.7 453.7 L1381.6 451.4 L1374.4 449.1 L1367.2 446.7 L1359.9 444.3 L1352.6 441.9 L1345.2 439.5 L1337.7 437.0 L1330.2 434.5 L1322.6 431.9 L1315.0 429.3 L1307.3 426.7 L1299.5 424.0 L1291.6 421.3 L1283.7 418.6 L1275.7 415.8 L1267.6 413.0 L1259.5 410.1 L1251.3 407.2 L1243.0 404.2 L1234.6 401.2 L1226.2 398.1 L1217.6 395.0 L1209.0 391.8 L1200.3 388.6 L1191.5 385.3 L1182.6 382.0 L1173.5 378.6 L1164.4 375.1 L1155.2 371.6 L1145.9 367.9 L1136.5 364.3 L1127.0 360.5 L1117.3 356.6 L1107.6 352.7 L1097.7 348.7 L1087.7 344.6 L1077.5 340.4 L1067.3 336.1 L1056.8 331.7 L1046.3 327.2 L1035.6 322.6 L1024.7 317.9 L1013.6 313.0 L1002.4 308.0 L991.1 302.9 L979.5 297.6 L967.8 292.1 L955.8 286.5 L943.6 280.7 L931.3 274.7 L918.7 268.6 L905.8 262.2 L892.7 255.5 L879.4 248.6 L865.8 241.5 L851.8 234.0 L837.6 226.3 L823.0 218.2 L808.1 209.7 L792.8 200.8 L777.2 191.4 L761.1 181.5 L744.5 171.1 L727.5 160.1 L709.9 148.3 L691.8 135.7 L673.0 122.2 L653.6 107.6 L633.4 91.7 L612.4 74.3" stroke="#00ff00" stroke-width="0.99" fill="none"/>
<path d="M1620.2 503.3 L1614.0 501.6 L1607.7 499.8 L1601.5 498.0 L1595.1 496.2 L1588.8 494.4 L1582.4 492.6 L1575.9 490.7 L1569.4 488.8 L1562.9 487.0 L1556.3 485.0 L1549.7 483.1 L1543.1 481.2 L1536.4 479.2 L1529.6 477.2 L1522.8 475.2 L1516.0 473.1 L1509.1 471.1 L1502.2 469.0 L1495.2 466.9 L1488.2 464.7 L1481.1 462.6 L1474.0 460.4 L1466.8 458.2 L1459.6 456.0 L1452.3 453.7 L1444.9 451.4 L1437.5 449.1 L1430.1 446.7 L1422.6 444.3 L1415.0 441.9 L1407.3 439.5 L1399.6 437.0 L1391.9 434.5 L1384.0 431.9 L1376.1 429.3 L1368.2 426.7 L1360.1 424.0 L1352.0 421.3 L1343.9 418.6 L1335.6 415.8 L1327.3 413.0 L1318.9 410.1 L1310.4 407.2 L1301.8 404.2 L1293.2 401.2 L1284.4 398.1 L1275.6 395.0 L1266.7 391.8 L1257.7 388.6 L1248.6 385.3 L1239.4 382.0 L1230.0 378.6 L1220.6 375.1 L1211.1 371.6 L1201.5 367.9 L1191.8 364.3 L1181.9 360.5 L1171.9 356.6 L1161.8 352.7 L1151.6 348.7 L1141.3 344.6 L1130.8 340.4 L1120.1 336.1 L1109.3 331.7 L1098.4 327.2 L1087.3 322.6 L1076.1 317.9 L1064.6 313.0 L1053.0 308.0 L1041.2 302.9 L1029.3 297.6 L1017.1 292.1 L1004.7 286.5 L992.1 280.7 L979.3 274.7 L966.2 268.6 L952.9 262.2 L939.3 255.5 L925.5 248.6 L911.3 241.5 L896.9 234.0 L882.1 226.3 L867.0 218.2 L851.5 209.7 L835.6 200.8 L819.3 191.4 L802.6 181.5 L785.3 171.1 L767.6 160.1 L749.3 148.3 L730.4 135.7 L710.8 122.2 L690.5 107.6 L669.5 91.7 L647.5 74.3" stroke="#00ff00" stroke-width="0.99" fill="none"/>
<path d="M215.7 484.0 L221.8 489.0M227.9 494.0 L234.6 499.5" stroke="#00ff00" stroke-width="0.99" fill="none"/>
<path d="M242.2 455.0 L248.2 460.0M254.2 465.0 L260.2 470.0M266.8 475.5 L272.7 480.5M278.7 485.5 L285.2 491.0M291.1 496.0 L296.9 501.0" stroke="#00ff00" stroke-width="0.99" fill="none"/>
<path d="M262.2 422.5 L264.0 424.0M269.9 429.0 L275.8 434.0M282.3 439.5 L288.2 444.5M294.0 449.5 L299.9 454.5M306.3 460.0 L312.1 465.0M317.8 470.0 L324.0 475.5M329.6 480.5 L335.1 485.5M341.0 491.0 L346.3 496.0M351.6 501.0 L355.1 504.5" stroke="#00ff00" stroke-width="0.99" fill="none"/>
<path d="M285.6 394.5 L287.9 396.5M294.8 402.5 L301.2 408.0M307.6 413.5 L314.6 419.5M320.3 424.5 L326.0 429.5M332.3 435.0 L337.9 440.0M344.0 445.5 L349.5 450.5M354.9 455.5 L360.2 460.5M365.9 466.0 L371.0 471.0M376.0 476.0 L381.4 481.5M386.1 486.5 L390.8 491.5M395.8 497.0 L400.2 502.0" stroke="#00ff00" stroke-width="0.99" fill="none"/>
<path d="M308.7 368.0 L309.2 368.5M315.5 374.0 L322.4 380.0M328.7 385.5 L335.5 391.5M341.8 397.0 L347.9 402.5M354.6 408.5 L360.7 414.0M367.2 420.0 L372.5 425.0M377.8 430.0 L383.4 435.5M388.5 440.5 L393.4 445.5M398.7 451.0 L403.4 456.0M407.9 461.0 L412.4 466.0M417.1 471.5 L421.3 476.5M425.4 481.5 L429.7 487.0M433.5 492.0 L437.2 497.0M441.2 502.5 L442.6 504.5" stroke="#00ff00" stroke-width="0.99" fill="none"/>
<path d="M330.6 342.0 L336.8 347.5M343.0 353.0 L349.7 359.0M355.9 364.5 L362.6 370.5M368.7 376.0 L375.3 382.0M381.2 387.5 L387.1 393.0M393.3 399.0 L399.0 404.5M405.0 410.5 L410.3 416.0M415.6 421.5 L420.2 426.5M425.1 432.0 L429.5 437.0M434.2 442.5 L438.3 447.5M442.2 452.5 L446.1 457.5M450.2 463.0 L453.8 468.0M457.3 473.0 L460.7 478.0M464.2 483.5 L467.4 488.5M470.7 494.0 L473.7 499.0M476.5 504.0 L476.8 504.5" stroke="#00ff00" stroke-width="0.99" fill="none"/>
<path d="M358.1 322.5 L364.7 328.5M370.8 334.0 L376.9 339.5M383.0 345.0 L389.5 351.0M395.4 356.5 L401.8 362.5M407.5 368.0 L413.7 374.0M419.2 379.5 L425.0 385.5M430.3 391.0 L435.3 396.5M440.7 402.5 L445.5 408.0M450.5 414.0 L455.0 419.5M459.2 425.0 L463.0 430.0M466.6 435.0 L470.1 440.0M473.9 445.5 L477.1 450.5M480.3 455.5 L483.6 461.0M486.5 466.0 L489.4 471.0M492.4 476.5 L495.0 481.5M497.5 486.5 L500.0 491.5M502.6 497.0 L504.9 502.0" stroke="#00ff00" stroke-width="0.99" fill="none"/>
<path d="M374.5 294.5 L381.1 300.5M387.1 306.0 L393.7 312.0M399.1 317.0 L405.6 323.0M411.5 328.5 L417.8 334.5M423.5 340.0 L429.6 346.0M435.1 351.5 L440.9 357.5M446.1 363.0 L451.6 369.0M456.5 374.5 L461.2 380.0M466.2 386.0 L470.6 391.5M475.2 397.5 L479.3 403.0M483.2 408.5 L487.3 414.5M490.9 420.0 L494.0 425.0M497.4 430.5 L500.3 435.5M503.3 441.0 L506.0 446.0M508.6 451.0 L511.1 456.0M513.7 461.5 L516.0 466.5M518.2 471.5 L520.6 477.0M522.7 482.0 L524.7 487.0M526.8 492.5 L528.7 497.5M530.5 502.5 L531.2 504.5" stroke="#00ff00" stroke-width="0.99" fill="none"/>
<path d="M393.5 270.0 L395.1 271.5M401.0 277.0 L407.5 283.0M413.5 288.5 L419.9 294.5M425.2 299.5 L432.0 306.0M437.2 311.0 L443.3 317.0M448.8 322.5 L454.6 328.5M459.9 334.0 L465.4 340.0M470.3 345.5 L475.5 351.5M480.1 357.0 L484.9 363.0M489.2 368.5 L493.2 374.0M497.5 380.0 L501.3 385.5M504.9 391.0 L508.6 397.0M511.9 402.5 L515.3 408.5M518.3 414.0 L521.4 420.0M523.9 425.0 L526.3 430.0M528.8 435.5 L531.0 440.5M533.1 445.5 L535.1 450.5M537.3 456.0 L539.2 461.0M541.2 466.5 L542.9 471.5M544.6 476.5 L546.2 481.5M548.0 487.0 L549.5 492.0M551.0 497.0 L552.6 502.5" stroke="#00ff00" stroke-width="0.99" fill="none"/>
<path d="M415.4 249.5 L421.8 255.5M427.7 261.0 L434.0 267.0M439.9 272.5 L446.1 278.5M451.3 283.5 L457.9 290.0M462.9 295.0 L468.7 301.0M473.9 306.5 L479.5 312.5M484.4 318.0 L489.6 324.0M494.2 329.5 L499.1 335.5M503.3 341.0 L507.8 347.0M511.7 352.5 L515.8 358.5M519.4 364.0 L522.8 369.5M526.0 375.0 L529.4 381.0M532.4 386.5 L535.5 392.5M538.1 398.0 L540.9 404.0M543.4 409.5 L545.9 415.5M548.1 421.0 L550.0 426.0M551.9 431.0 L553.8 436.5M555.5 441.5 L557.1 446.5M558.9 452.0 L560.4 457.0M561.8 462.0 L563.2 467.0M564.7 472.5 L566.0 477.5M567.4 483.0 L568.7 488.0M569.9 493.0 L571.0 498.0M572.3 503.5 L572.5 504.5" stroke="#00ff00" stroke-width="0.99" fill="none"/>
<path d="M437.6 230.5 L444.4 237.0M449.7 242.0 L456.5 248.5M461.7 253.5 L468.3 260.0M473.3 265.0 L479.3 271.0M484.6 276.5 L490.2 282.5M495.3 288.0 L500.6 294.0M505.3 299.5 L510.3 305.5M514.7 311.0 L519.3 317.0M523.0 322.0 L527.2 328.0M530.9 333.5 L534.7 339.5M538.1 345.0 L541.5 351.0M544.6 356.5 L547.7 362.5M550.4 368.0 L553.3 374.0M555.7 379.5 L558.1 385.0M560.5 391.0 L562.6 396.5M564.8 402.5 L566.7 408.0M568.5 413.5 L570.4 419.5M571.9 424.5 L573.4 430.0M574.8 435.0 L576.1 440.0M577.5 445.5 L578.7 450.5M579.9 455.5 L581.1 460.5M582.3 466.0 L583.3 471.0M584.4 476.0 L585.5 481.5M586.4 486.5 L587.4 491.5M588.4 497.0 L589.3 502.0" stroke="#00ff00" stroke-width="0.99" fill="none"/>
<path d="M454.4 207.5 L461.1 214.0M466.4 219.0 L473.1 225.5M478.2 230.5 L484.3 236.5M489.7 242.0 L495.6 248.0M500.9 253.5 L506.5 259.5M511.5 265.0 L516.7 271.0M521.0 276.0 L526.3 282.5M530.2 287.5 L534.8 293.5M538.8 299.0 L542.9 305.0M546.5 310.5 L550.3 316.5M553.5 322.0 L556.9 328.0M559.9 333.5 L562.9 339.5M565.6 345.0 L568.3 351.0M570.7 356.5 L572.9 362.0M575.0 367.5 L577.2 373.5M579.1 379.0 L581.1 385.0M582.8 390.5 L584.5 396.5M586.0 402.0 L587.6 408.0M589.0 413.5 L590.3 419.0M591.6 424.5 L592.6 429.5M593.8 435.0 L594.8 440.0M595.7 445.0 L596.7 450.0M597.7 455.5 L598.5 460.5M599.4 465.5 L600.3 471.0M601.0 476.0 L601.8 481.0M602.6 486.5 L603.4 491.5M604.1 496.5 L604.8 501.5" stroke="#00ff00" stroke-width="0.99" fill="none"/>
<path d="M469.0 183.5 L473.2 187.5M478.3 192.5 L484.5 198.5M489.6 203.5 L496.2 210.0M501.2 215.0 L507.6 221.5M512.4 226.5 L518.5 233.0M523.1 238.0 L528.9 244.5M533.2 249.5 L538.2 255.5M542.6 261.0 L547.2 267.0M551.3 272.5 L555.5 278.5M559.2 284.0 L563.0 290.0M566.3 295.5 L569.8 301.5M572.5 306.5 L575.6 312.5M578.3 318.0 L581.0 324.0M583.4 329.5 L585.9 335.5M588.0 341.0 L590.2 347.0M592.0 352.5 L594.0 358.5M595.6 364.0 L597.4 370.0M598.8 375.5 L600.2 381.0M601.7 387.0 L602.9 392.5M604.1 398.0 L605.3 404.0M606.4 409.5 L607.5 415.5M608.4 421.0 L609.3 426.0M610.1 431.5 L610.9 436.5M611.6 441.5 L612.3 446.5M613.1 452.0 L613.7 457.0M614.4 462.5 L615.0 467.5M615.6 472.5 L616.2 477.5M616.9 483.0 L617.5 488.0M618.0 493.0 L618.6 498.5M619.2 503.5 L619.3 504.5" stroke="#00ff00" stroke-width="0.99" fill="none"/>
<path d="M488.4 165.0 L495.0 171.5M500.1 176.5 L506.2 182.5M511.2 187.5 L517.7 194.0M522.5 199.0 L528.7 205.5M533.4 210.5 L539.3 217.0M543.7 222.0 L549.3 228.5M553.4 233.5 L558.1 239.5M562.3 245.0 L566.7 251.0M570.5 256.5 L574.4 262.5M577.9 268.0 L581.4 274.0M584.2 279.0 L587.7 285.5M590.2 290.5 L593.3 297.0M595.5 302.0 L598.0 308.0M600.2 313.5 L602.4 319.5M604.3 325.0 L606.3 331.0M607.9 336.5 L609.6 342.5M611.1 348.0 L612.6 354.0M613.9 359.5 L615.1 365.0M616.3 370.5 L617.5 376.5M618.5 382.0 L619.5 388.0M620.4 393.5 L621.3 399.5M622.1 405.0 L622.9 411.0M623.6 416.5 L624.3 422.0M624.9 427.0 L625.5 432.5M626.1 437.5 L626.6 442.5M627.1 448.0 L627.6 453.0M628.1 458.0 L628.5 463.0M629.0 468.5 L629.5 473.5M629.9 478.5 L630.4 484.0M630.8 489.0 L631.2 494.0M631.7 499.5 L632.1 504.5" stroke="#00ff00" stroke-width="0.99" fill="none"/>
<path d="M504.2 144.0 L504.7 144.5M510.3 150.0 L516.8 156.5M521.8 161.5 L528.3 168.0M533.2 173.0 L539.4 179.5M544.2 184.5 L550.2 191.0M554.2 195.5 L559.9 202.0M564.1 207.0 L569.4 213.5M573.3 218.5 L578.1 225.0M581.7 230.0 L586.1 236.5M589.3 241.5 L593.3 248.0M596.2 253.0 L599.5 259.0M602.3 264.5 L605.2 270.5M607.7 276.0 L610.3 282.0M612.5 287.5 L614.8 293.5M616.5 298.5 L618.7 305.0M620.2 310.0 L621.9 316.0M623.4 321.5 L624.9 327.5M626.2 333.0 L627.5 339.0M628.6 344.5 L629.8 350.5M630.7 356.0 L631.7 362.0M632.6 367.5 L633.3 373.0M634.1 379.0 L634.8 384.5M635.5 390.0 L636.1 396.0M636.7 401.5 L637.2 407.5M637.7 413.0 L638.2 419.0M638.6 424.0 L639.0 429.0M639.4 434.5 L639.8 439.5M640.1 444.5 L640.5 450.0M640.8 455.0 L641.1 460.0M641.5 465.5 L641.8 470.5M642.1 475.5 L642.4 480.5M642.7 486.0 L643.0 491.0M643.4 496.5 L643.7 501.5" stroke="#00ff00" stroke-width="0.99" fill="none"/>
<path d="M521.1 125.0 L527.1 131.0M532.1 136.0 L539.6 143.5M544.5 148.5 L551.2 155.5M556.0 160.5 L562.0 167.0M566.1 171.5 L571.8 178.0M576.1 183.0 L581.4 189.5M585.4 194.5 L590.3 201.0M593.9 206.0 L598.4 212.5M601.7 217.5 L605.8 224.0M608.7 229.0 L612.0 235.0M614.9 240.5 L617.9 246.5M620.4 252.0 L623.0 258.0M625.0 263.0 L627.5 269.5M629.2 274.5 L631.4 281.0M632.9 286.0 L634.6 292.0M636.1 297.5 L637.6 303.5M638.8 309.0 L640.1 315.0M641.2 320.5 L642.3 326.5M643.2 332.0 L644.1 338.0M644.9 343.5 L645.6 349.0M646.3 355.0 L647.0 360.5M647.5 366.0 L648.1 372.0M648.6 377.5 L649.0 383.5M649.5 389.0 L649.9 395.0M650.2 400.5 L650.6 406.5M650.9 412.0 L651.1 417.5M651.4 423.0 L651.6 428.0M651.9 433.5 L652.1 438.5M652.3 443.5 L652.5 449.0M652.7 454.0 L652.9 459.0M653.1 464.5 L653.3 469.5M653.5 474.5 L653.7 479.5M653.9 485.0 L654.1 490.0M654.4 495.5 L654.6 500.5" stroke="#00ff00" stroke-width="0.99" fill="none"/>
<path d="M537.7 106.5 L544.6 113.5M549.5 118.5 L556.9 126.0M561.7 131.0 L568.8 138.5M573.5 143.5 L580.3 151.0M584.3 155.5 L589.8 162.0M594.0 167.0 L599.1 173.5M602.9 178.5 L607.7 185.0M611.1 190.0 L615.4 196.5M618.5 201.5 L622.3 208.0M625.1 213.0 L628.3 219.0M631.0 224.5 L633.7 230.5M635.9 235.5 L638.5 242.0M640.3 247.0 L642.6 253.5M644.2 258.5 L646.2 265.0M647.6 270.0 L649.1 276.0M650.4 281.5 L651.7 287.5M652.8 293.0 L654.0 299.0M654.9 304.5 L655.8 310.5M656.6 316.0 L657.4 322.0M658.0 327.5 L658.6 333.0M659.2 338.5 L659.7 344.5M660.2 350.0 L660.6 356.0M660.9 361.5 L661.3 367.5M661.6 373.0 L661.9 379.0M662.1 384.5 L662.3 390.0M662.5 396.0 L662.7 401.5M662.8 407.5 L662.9 413.0M663.1 419.0 L663.2 424.0M663.3 429.0 L663.4 434.5M663.4 439.5 L663.5 444.5M663.6 450.0 L663.7 455.0M663.8 460.0 L663.9 465.0M664.0 470.5 L664.1 475.5M664.2 481.0 L664.3 486.0M664.5 491.0 L664.6 496.0M664.8 501.5 L664.9 504.5" stroke="#00ff00" stroke-width="0.99" fill="none"/>
<path d="M554.9 89.5 L562.2 97.0M567.1 102.0 L574.3 109.5M579.1 114.5 L586.1 122.0M590.7 127.0 L597.3 134.5M601.6 139.5 L607.8 147.0M611.8 152.0 L616.8 158.5M620.4 163.5 L624.9 170.0M628.2 175.0 L632.2 181.5M635.2 186.5 L638.8 193.0M641.4 198.0 L644.3 204.0M646.6 209.0 L649.4 215.5M651.3 220.5 L653.7 227.0M655.4 232.0 L657.5 238.5M659.0 243.5 L660.7 250.0M662.0 255.0 L663.3 261.0M664.5 266.5 L665.6 272.5M666.6 278.0 L667.6 284.0M668.3 289.5 L669.1 295.5M669.7 300.5 L670.4 307.0M670.9 312.0 L671.4 318.0M671.8 323.5 L672.2 329.5M672.5 335.0 L672.8 341.0M673.1 346.5 L673.3 352.5M673.4 358.0 L673.6 364.0M673.7 369.5 L673.8 375.0M673.9 381.0 L673.9 386.5M674.0 392.0 L674.0 398.0M674.0 403.5 L674.0 409.5M674.0 415.0 L674.0 420.5M673.9 426.0 L673.9 431.0M673.9 436.5 L673.9 441.5M673.9 446.5 L673.9 451.5M673.9 457.0 L673.9 462.0M673.9 467.0 L673.9 472.0M673.9 477.5 L674.0 482.5M674.0 488.0 L674.1 493.0M674.2 498.0 L674.3 503.0" stroke="#00ff00" stroke-width="0.99" fill="none"/>
<path d="M572.2 73.5 L575.1 76.5M580.5 82.0 L587.2 89.0M592.4 94.5 L598.9 101.5M603.9 107.0 L610.1 114.0M614.9 119.5 L620.7 126.5M625.0 132.0 L630.3 139.0M634.3 144.5 L639.1 151.5M642.0 156.0 L646.3 163.0M648.9 167.5 L652.5 174.0M655.0 179.0 L658.1 185.5M660.3 190.5 L663.0 197.0M665.0 202.0 L667.3 208.5M668.9 213.5 L670.9 220.0M672.3 225.0 L673.8 231.0M675.1 236.5 L676.4 242.5M677.5 248.0 L678.5 254.0M679.3 259.0 L680.3 265.5M680.9 270.5 L681.7 277.0M682.2 282.0 L682.7 288.0M683.2 293.5 L683.6 299.5M683.9 305.0 L684.2 311.0M684.4 316.5 L684.6 322.5M684.8 328.0 L684.9 334.0M685.0 339.5 L685.0 345.0M685.1 350.5 L685.1 356.5M685.0 362.0 L685.0 368.0M684.9 373.5 L684.8 379.5M684.8 385.0 L684.6 391.0M684.5 396.5 L684.4 402.0M684.3 408.0 L684.2 413.5M684.0 419.5 L683.9 424.5M683.8 430.0 L683.7 435.0M683.6 440.0 L683.5 445.0M683.4 450.5 L683.3 455.5M683.2 460.5 L683.1 466.0M683.1 471.0 L683.0 476.0M683.0 481.5 L683.0 486.5M683.0 491.5 L683.0 496.5M683.1 502.0 L683.1 504.5" stroke="#00ff00" stroke-width="0.99" fill="none"/>
<path d="M604.1 73.5 L609.2 79.0M613.8 84.0 L620.5 91.5M624.9 96.5 L631.2 104.0M635.3 109.0 L641.1 116.5M644.8 121.5 L650.1 129.0M653.4 134.0 L658.1 141.5M661.0 146.5 L664.9 153.5M667.5 158.5 L670.6 165.0M672.6 169.5 L675.3 176.0M677.2 181.0 L679.6 187.5M681.2 192.5 L683.2 199.0M684.6 204.0 L686.2 210.5M687.4 215.5 L688.8 222.0M689.7 227.0 L690.8 233.5M691.6 238.5 L692.4 244.5M693.1 250.0 L693.7 256.0M694.3 261.5 L694.7 267.5M695.1 272.5 L695.5 279.0M695.7 284.0 L696.0 290.5M696.1 295.5 L696.3 301.5M696.4 307.0 L696.4 313.0M696.4 318.5 L696.4 324.5M696.3 330.0 L696.2 336.0M696.1 341.5 L696.0 347.5M695.9 353.0 L695.7 358.5M695.5 364.0 L695.3 370.0M695.1 375.5 L694.9 381.5M694.7 387.0 L694.4 393.0M694.2 398.5 L694.0 404.5M693.7 410.0 L693.5 415.5M693.3 421.5 L693.1 426.5M692.9 431.5 L692.7 436.5M692.5 442.0 L692.4 447.0M692.2 452.0 L692.0 457.5M691.9 462.5 L691.8 467.5M691.7 473.0 L691.6 478.0M691.5 483.0 L691.4 488.0M691.4 493.5 L691.4 498.5M691.4 504.0 L691.4 504.5" stroke="#00ff00" stroke-width="0.99" fill="none"/>
<path d="M637.3 77.0 L643.2 84.0M647.7 89.5 L653.2 96.5M657.3 102.0 L662.2 109.0M665.9 114.5 L670.3 121.5M673.5 127.0 L677.4 134.0M680.2 139.5 L683.6 146.5M685.8 151.5 L688.4 158.0M690.3 163.0 L692.5 169.5M694.1 174.5 L696.0 181.0M697.4 186.0 L699.0 192.5M700.1 197.5 L701.3 204.0M702.2 209.0 L703.2 215.0M704.0 220.5 L704.7 226.5M705.3 232.0 L705.9 238.0M706.3 243.0 L706.8 249.5M707.1 254.5 L707.4 261.0M707.5 266.0 L707.7 272.5M707.8 277.5 L707.8 283.5M707.8 289.0 L707.8 295.0M707.7 300.5 L707.6 306.5M707.5 312.0 L707.3 318.0M707.1 323.5 L706.9 329.5M706.7 334.5 L706.4 340.5M706.2 346.0 L705.9 352.0M705.6 357.5 L705.3 363.5M705.0 369.0 L704.6 375.0M704.3 380.5 L704.0 386.5M703.6 392.0 L703.3 397.5M703.0 403.5 L702.7 409.0M702.3 415.0 L702.0 420.5M701.8 425.5 L701.5 430.5M701.2 436.0 L701.0 441.0M700.7 446.5 L700.5 451.5M700.3 456.5 L700.1 461.5M699.9 467.0 L699.8 472.0M699.6 477.0 L699.5 482.5M699.4 487.5 L699.3 492.5M699.2 498.0 L699.2 503.0" stroke="#00ff00" stroke-width="0.99" fill="none"/>
<path d="M664.3 76.0 L669.5 83.0M673.5 88.5 L678.2 95.5M681.7 101.0 L685.9 108.0M688.9 113.5 L692.6 120.5M695.2 126.0 L698.3 133.0M700.5 138.5 L703.1 145.5M705.0 151.0 L707.0 157.5M708.5 162.5 L710.1 169.0M711.2 173.5 L712.6 180.0M713.5 185.0 L714.6 191.5M715.4 196.5 L716.2 203.0M716.8 208.0 L717.4 214.5M717.9 219.5 L718.3 226.0M718.6 231.0 L718.9 237.0M719.1 242.5 L719.2 248.5M719.3 254.0 L719.3 260.0M719.3 265.5 L719.2 271.5M719.1 276.5 L718.9 283.0M718.8 288.0 L718.5 294.5M718.3 299.5 L718.0 305.5M717.7 311.0 L717.4 317.0M717.1 322.5 L716.7 328.5M716.4 334.0 L716.0 340.0M715.6 345.5 L715.2 351.5M714.8 357.0 L714.4 362.5M713.9 368.0 L713.5 374.0M713.1 379.5 L712.6 385.5M712.2 391.0 L711.8 397.0M711.4 402.5 L711.0 408.5M710.6 414.0 L710.2 419.5M709.9 425.0 L709.5 430.0M709.2 435.0 L708.9 440.5M708.6 445.5 L708.4 450.5M708.1 456.0 L707.8 461.0M707.6 466.0 L707.4 471.0M707.2 476.5 L707.1 481.5M706.9 487.0 L706.8 492.0M706.7 497.0 L706.6 502.0" stroke="#00ff00" stroke-width="0.99" fill="none"/>
<path d="M691.3 78.5 L695.7 85.5M698.9 91.0 L702.7 98.0M705.5 103.5 L708.7 110.5M711.1 116.0 L713.9 123.0M715.8 128.5 L718.1 135.5M719.7 141.0 L721.6 148.0M722.8 153.0 L724.2 159.5M725.2 164.5 L726.3 171.0M727.0 176.0 L727.9 182.5M728.4 187.5 L729.1 194.0M729.5 199.0 L729.9 205.0M730.1 210.0 L730.4 216.5M730.6 221.5 L730.7 228.0M730.7 233.0 L730.7 239.5M730.6 244.5 L730.5 251.0M730.4 256.0 L730.2 262.0M729.9 267.5 L729.6 273.5M729.4 279.0 L729.0 285.0M728.7 290.5 L728.3 296.5M727.9 301.5 L727.4 308.0M727.0 313.0 L726.6 319.0M726.1 324.5 L725.6 330.5M725.1 336.0 L724.6 342.0M724.1 347.5 L723.6 353.5M723.1 359.0 L722.6 365.0M722.1 370.5 L721.6 376.0M721.0 382.0 L720.6 387.5M720.0 393.5 L719.6 399.0M719.1 404.5 L718.6 410.5M718.2 416.0 L717.7 421.5M717.3 427.0 L717.0 432.0M716.6 437.0 L716.3 442.0M715.9 447.5 L715.6 452.5M715.3 458.0 L715.0 463.0M714.8 468.0 L714.5 473.0M714.3 478.5 L714.1 483.5M714.0 488.5 L713.8 494.0M713.7 499.0 L713.6 504.0" stroke="#00ff00" stroke-width="0.99" fill="none"/>
<path d="M711.2 73.5 L714.7 80.0M717.5 85.5 L720.8 92.5M723.1 98.0 L725.9 105.0M727.8 110.5 L730.1 117.5M731.7 123.0 L733.6 130.0M734.8 135.5 L736.3 142.5M737.3 148.0 L738.3 154.5M739.0 159.5 L739.8 166.0M740.3 171.0 L740.9 177.5M741.2 182.5 L741.6 189.0M741.8 194.0 L741.9 200.5M742.0 205.5 L742.1 211.5M742.0 216.5 L741.9 223.0M741.8 228.0 L741.6 234.5M741.4 239.5 L741.1 246.0M740.8 251.0 L740.4 257.5M740.1 262.5 L739.7 268.5M739.3 274.0 L738.8 280.0M738.3 285.5 L737.8 291.5M737.3 297.0 L736.7 303.0M736.2 308.5 L735.6 314.5M735.1 319.5 L734.5 325.5M733.9 331.0 L733.3 337.0M732.8 342.5 L732.1 348.5M731.6 354.0 L730.9 360.0M730.4 365.5 L729.7 371.5M729.2 377.0 L728.6 382.5M728.0 388.5 L727.5 394.0M726.9 400.0 L726.4 405.5M725.9 411.0 L725.3 417.0M724.9 422.5 L724.4 427.5M724.0 432.5 L723.6 438.0M723.2 443.0 L722.9 448.0M722.5 453.5 L722.2 458.5M721.9 463.5 L721.6 468.5M721.3 474.0 L721.1 479.0M720.8 484.5 L720.6 489.5M720.5 494.5 L720.3 499.5" stroke="#00ff00" stroke-width="0.99" fill="none"/>
<path d="M525.6 78.0 L519.1 85.0M512.7 92.0 L506.8 98.5M499.9 106.0 L493.9 112.5M487.5 119.5 L481.1 126.5M474.7 133.5 L468.8 140.0M462.4 147.0 L456.1 154.0M449.7 161.0 L443.8 167.5M437.4 174.5 L431.1 181.5M424.8 188.5 L418.9 195.0M412.6 202.0 L406.3 209.0M399.9 216.0 L394.1 222.5M387.8 229.5 L381.5 236.5M375.2 243.5 L369.4 250.0M363.1 257.0 L356.9 264.0M351.1 270.5 L344.8 277.5M339.1 284.0 L332.8 291.0M327.0 297.5 L320.8 304.5M315.1 311.0 L308.9 318.0M303.1 324.5 L296.9 331.5M291.2 338.0 L285.5 344.5M279.3 351.5 L274.0 357.5M267.9 364.5 L262.6 370.5M256.5 377.5 L250.8 384.0M245.1 390.5 L239.5 397.0M233.8 403.5 L228.1 410.0M222.5 416.5 L216.8 423.0M211.2 429.5 L205.6 436.0M200.0 442.5 L194.3 449.0M188.7 455.5 L183.1 462.0M177.5 468.5 L172.4 474.5M166.4 481.5 L161.2 487.5M155.7 494.0 L150.1 500.5" stroke="#4b0082" stroke-width="0.99" fill="none"/>
<path d="M563.0 78.0 L556.7 85.0M550.4 92.0 L544.5 98.5M537.8 106.0 L531.9 112.5M525.7 119.5 L519.4 126.5M513.1 133.5 L507.3 140.0M501.1 147.0 L494.8 154.0M488.6 161.0 L482.8 167.5M476.6 174.5 L470.4 181.5M464.2 188.5 L458.4 195.0M452.3 202.0 L446.1 209.0M439.9 216.0 L434.2 222.5M428.0 229.5 L421.9 236.5M415.7 243.5 L410.0 250.0M403.9 257.0 L397.8 264.0M392.1 270.5 L386.0 277.5M380.4 284.0 L374.3 291.0M368.6 297.5 L362.6 304.5M356.9 311.0 L350.9 318.0M345.3 324.5 L339.2 331.5M333.6 338.0 L328.1 344.5M322.0 351.5 L316.9 357.5M310.9 364.5 L305.8 370.5M299.8 377.5 L294.3 384.0M288.7 390.5 L283.2 397.0M277.7 403.5 L272.2 410.0M266.7 416.5 L261.2 423.0M255.7 429.5 L250.2 436.0M244.7 442.5 L239.3 449.0M233.8 455.5 L228.4 462.0M222.9 468.5 L217.9 474.5M212.1 481.5 L207.1 487.5M201.7 494.0 L196.3 500.5" stroke="#4b0082" stroke-width="0.99" fill="none"/>
<path d="M616.0 78.0 L609.9 85.0M603.8 92.0 L598.1 98.5M591.5 106.0 L585.9 112.5M579.8 119.5 L573.7 126.5M567.6 133.5 L562.0 140.0M555.9 147.0 L549.9 154.0M543.9 161.0 L538.3 167.5M532.2 174.5 L526.2 181.5M520.2 188.5 L514.6 195.0M508.7 202.0 L502.7 209.0M496.7 216.0 L491.2 222.5M485.2 229.5 L479.3 236.5M473.3 243.5 L467.8 250.0M461.9 257.0 L456.0 264.0M450.5 270.5 L444.6 277.5M439.2 284.0 L433.3 291.0M427.9 297.5 L422.0 304.5M416.6 311.0 L410.7 318.0M405.3 324.5 L399.5 331.5M394.1 338.0 L388.7 344.5M383.0 351.5 L378.0 357.5M372.2 364.5 L367.3 370.5M361.5 377.5 L356.2 384.0M350.9 390.5 L345.6 397.0M340.3 403.5 L335.0 410.0M329.7 416.5 L324.4 423.0M319.2 429.5 L313.9 436.0M308.6 442.5 L303.4 449.0M298.2 455.5 L292.9 462.0M287.7 468.5 L282.9 474.5M277.3 481.5 L272.6 487.5M267.4 494.0 L262.2 500.5" stroke="#4b0082" stroke-width="0.99" fill="none"/>
<path d="M659.1 78.0 L653.2 85.0M647.2 92.0 L641.7 98.5M635.3 106.0 L629.8 112.5M623.8 119.5 L617.9 126.5M612.0 133.5 L606.5 140.0M600.6 147.0 L594.7 154.0M588.9 161.0 L583.4 167.5M577.6 174.5 L571.7 181.5M565.9 188.5 L560.5 195.0M554.6 202.0 L548.8 209.0M543.0 216.0 L537.6 222.5M531.9 229.5 L526.1 236.5M520.3 243.5 L515.0 250.0M509.2 257.0 L503.5 264.0M498.2 270.5 L492.5 277.5M487.2 284.0 L481.5 291.0M476.2 297.5 L470.5 304.5M465.3 311.0 L459.6 318.0M454.4 324.5 L448.8 331.5M443.6 338.0 L438.3 344.5M432.7 351.5 L428.0 357.5M422.4 364.5 L417.6 370.5M412.0 377.5 L406.9 384.0M401.8 390.5 L396.6 397.0M391.5 403.5 L386.4 410.0M381.3 416.5 L376.2 423.0M371.1 429.5 L366.1 436.0M361.0 442.5 L355.9 449.0M350.9 455.5 L345.9 462.0M340.9 468.5 L336.2 474.5M330.9 481.5 L326.2 487.5M321.3 494.0 L316.3 500.5" stroke="#4b0082" stroke-width="0.99" fill="none"/>
<path d="M685.7 78.0 L679.8 85.0M673.9 92.0 L668.5 98.5M662.2 106.0 L656.8 112.5M651.0 119.5 L645.1 126.5M639.3 133.5 L633.9 140.0M628.1 147.0 L622.3 154.0M616.6 161.0 L611.2 167.5M605.5 174.5 L599.7 181.5M594.0 188.5 L588.7 195.0M583.0 202.0 L577.3 209.0M571.6 216.0 L566.3 222.5M560.6 229.5 L554.9 236.5M549.3 243.5 L544.1 250.0M538.4 257.0 L532.8 264.0M527.6 270.5 L522.0 277.5M516.8 284.0 L511.2 291.0M506.1 297.5 L500.5 304.5M495.4 311.0 L489.8 318.0M484.7 324.5 L479.2 331.5M474.1 338.0 L469.0 344.5M463.5 351.5 L458.8 357.5M453.4 364.5 L448.7 370.5M443.2 377.5 L438.2 384.0M433.2 390.5 L428.2 397.0M423.2 403.5 L418.2 410.0M413.2 416.5 L408.2 423.0M403.3 429.5 L398.3 436.0M393.4 442.5 L388.4 449.0M383.5 455.5 L378.6 462.0M373.7 468.5 L369.2 474.5M364.0 481.5 L359.5 487.5M354.6 494.0 L349.8 500.5" stroke="#4b0082" stroke-width="0.99" fill="none"/>
<path d="M705.1 78.0 L699.3 85.0M693.5 92.0 L688.1 98.5M681.9 106.0 L676.6 112.5M670.8 119.5 L665.1 126.5M659.3 133.5 L654.0 140.0M648.3 147.0 L642.6 154.0M636.9 161.0 L631.6 167.5M625.9 174.5 L620.3 181.5M614.6 188.5 L609.4 195.0M603.7 202.0 L598.1 209.0M592.5 216.0 L587.3 222.5M581.7 229.5 L576.1 236.5M570.6 243.5 L565.4 250.0M559.8 257.0 L554.3 264.0M549.2 270.5 L543.7 277.5M538.5 284.0 L533.1 291.0M528.0 297.5 L522.5 304.5M517.4 311.0 L512.0 318.0M506.9 324.5 L501.5 331.5M496.5 338.0 L491.5 344.5M486.1 351.5 L481.5 357.5M476.1 364.5 L471.5 370.5M466.2 377.5 L461.2 384.0M456.3 390.5 L451.4 397.0M446.4 403.5 L441.5 410.0M436.6 416.5 L431.8 423.0M426.9 429.5 L422.0 436.0M417.2 442.5 L412.3 449.0M407.5 455.5 L402.7 462.0M397.9 468.5 L393.5 474.5M388.3 481.5 L383.9 487.5M379.2 494.0 L374.4 500.5" stroke="#4b0082" stroke-width="0.99" fill="none"/>
<path d="M733.4 78.0 L727.7 85.0M722.0 92.0 L716.8 98.5M710.7 106.0 L705.4 112.5M699.8 119.5 L694.1 126.5M688.5 133.5 L683.3 140.0M677.7 147.0 L672.1 154.0M666.5 161.0 L661.3 167.5M655.8 174.5 L650.2 181.5M644.7 188.5 L639.5 195.0M634.0 202.0 L628.5 209.0M623.0 216.0 L617.9 222.5M612.5 229.5 L607.0 236.5M601.6 243.5 L596.5 250.0M591.1 257.0 L585.7 264.0M580.7 270.5 L575.3 277.5M570.3 284.0 L564.9 291.0M559.9 297.5 L554.6 304.5M549.6 311.0 L544.3 318.0M539.4 324.5 L534.1 331.5M529.2 338.0 L524.3 344.5M519.1 351.5 L514.6 357.5M509.3 364.5 L504.9 370.5M499.6 377.5 L494.8 384.0M490.0 390.5 L485.2 397.0M480.4 403.5 L475.7 410.0M470.9 416.5 L466.1 423.0M461.4 429.5 L456.7 436.0M452.0 442.5 L447.3 449.0M442.6 455.5 L437.9 462.0M433.2 468.5 L428.9 474.5M423.9 481.5 L419.7 487.5M415.0 494.0 L410.4 500.5" stroke="#4b0082" stroke-width="0.99" fill="none"/>
<path d="M754.2 78.0 L748.5 85.0M742.9 92.0 L737.7 98.5M731.7 106.0 L726.6 112.5M721.0 119.5 L715.4 126.5M709.9 133.5 L704.8 140.0M699.2 147.0 L693.7 154.0M688.2 161.0 L683.1 167.5M677.7 174.5 L672.2 181.5M666.7 188.5 L661.7 195.0M656.3 202.0 L650.8 209.0M645.4 216.0 L640.4 222.5M635.0 229.5 L629.7 236.5M624.3 243.5 L619.3 250.0M614.0 257.0 L608.7 264.0M603.8 270.5 L598.5 277.5M593.6 284.0 L588.3 291.0M583.4 297.5 L578.2 304.5M573.3 311.0 L568.1 318.0M563.2 324.5 L558.1 331.5M553.2 338.0 L548.4 344.5M543.3 351.5 L538.9 357.5M533.7 364.5 L529.4 370.5M524.3 377.5 L519.5 384.0M514.8 390.5 L510.1 397.0M505.4 403.5 L500.7 410.0M496.1 416.5 L491.4 423.0M486.8 429.5 L482.2 436.0M477.5 442.5 L472.9 449.0M468.4 455.5 L463.8 462.0M459.2 468.5 L455.0 474.5M450.1 481.5 L446.0 487.5M441.5 494.0 L437.0 500.5" stroke="#4b0082" stroke-width="0.99" fill="none"/>
<path d="M784.4 78.0 L778.9 85.0M773.4 92.0 L768.3 98.5M762.4 106.0 L757.3 112.5M751.9 119.5 L746.5 126.5M741.0 133.5 L736.0 140.0M730.6 147.0 L725.2 154.0M719.9 161.0 L714.9 167.5M709.5 174.5 L704.2 181.5M698.9 188.5 L693.9 195.0M688.6 202.0 L683.4 209.0M678.1 216.0 L673.2 222.5M668.0 229.5 L662.7 236.5M657.5 243.5 L652.7 250.0M647.5 257.0 L642.3 264.0M637.5 270.5 L632.3 277.5M627.5 284.0 L622.4 291.0M617.7 297.5 L612.6 304.5M607.8 311.0 L602.8 318.0M598.1 324.5 L593.0 331.5M588.3 338.0 L583.7 344.5M578.7 351.5 L574.4 357.5M569.4 364.5 L565.1 370.5M560.2 377.5 L555.6 384.0M551.0 390.5 L546.5 397.0M541.9 403.5 L537.4 410.0M532.9 416.5 L528.4 423.0M523.9 429.5 L519.4 436.0M514.9 442.5 L510.5 449.0M506.1 455.5 L501.6 462.0M497.2 468.5 L493.2 474.5M488.5 481.5 L484.4 487.5M480.1 494.0 L475.7 500.5" stroke="#4b0082" stroke-width="0.99" fill="none"/>
<path d="M806.5 78.0 L801.1 85.0M795.7 92.0 L790.7 98.5M784.9 106.0 L779.9 112.5M774.6 119.5 L769.2 126.5M763.9 133.5 L758.9 140.0M753.6 147.0 L748.3 154.0M743.1 161.0 L738.2 167.5M732.9 174.5 L727.7 181.5M722.4 188.5 L717.6 195.0M712.4 202.0 L707.2 209.0M702.0 216.0 L697.2 222.5M692.1 229.5 L687.0 236.5M681.8 243.5 L677.1 250.0M672.0 257.0 L666.9 264.0M662.2 270.5 L657.2 277.5M652.5 284.0 L647.5 291.0M642.8 297.5 L637.8 304.5M633.2 311.0 L628.2 318.0M623.6 324.5 L618.7 331.5M614.1 338.0 L609.5 344.5M604.7 351.5 L600.5 357.5M595.6 364.5 L591.4 370.5M586.6 377.5 L582.1 384.0M577.7 390.5 L573.2 397.0M568.8 403.5 L564.4 410.0M559.9 416.5 L555.5 423.0M551.2 429.5 L546.8 436.0M542.4 442.5 L538.1 449.0M533.8 455.5 L529.5 462.0M525.2 468.5 L521.2 474.5M516.6 481.5 L512.7 487.5M508.5 494.0 L504.3 500.5" stroke="#4b0082" stroke-width="0.99" fill="none"/>
<path d="M824.0 78.0 L818.7 85.0M813.4 92.0 L808.4 98.5M802.7 106.0 L797.8 112.5M792.5 119.5 L787.3 126.5M782.0 133.5 L777.1 140.0M771.9 147.0 L766.7 154.0M761.5 161.0 L756.7 167.5M751.5 174.5 L746.3 181.5M741.2 188.5 L736.4 195.0M731.3 202.0 L726.2 209.0M721.1 216.0 L716.4 222.5M711.3 229.5 L706.2 236.5M701.2 243.5 L696.5 250.0M691.5 257.0 L686.5 264.0M681.9 270.5 L676.9 277.5M672.3 284.0 L667.4 291.0M662.8 297.5 L657.9 304.5M653.3 311.0 L648.5 318.0M643.9 324.5 L639.1 331.5M634.6 338.0 L630.1 344.5M625.3 351.5 L621.2 357.5M616.4 364.5 L612.4 370.5M607.6 377.5 L603.2 384.0M598.8 390.5 L594.5 397.0M590.1 403.5 L585.8 410.0M581.5 416.5 L577.2 423.0M572.9 429.5 L568.6 436.0M564.3 442.5 L560.1 449.0M555.9 455.5 L551.7 462.0M547.5 468.5 L543.6 474.5M539.1 481.5 L535.3 487.5M531.1 494.0 L527.0 500.5" stroke="#4b0082" stroke-width="0.99" fill="none"/>
<path d="M838.6 78.0 L833.4 85.0M828.1 92.0 L823.2 98.5M817.6 106.0 L812.7 112.5M807.5 119.5 L802.3 126.5M797.1 133.5 L792.3 140.0M787.1 147.0 L782.0 154.0M776.8 161.0 L772.1 167.5M766.9 174.5 L761.8 181.5M756.8 188.5 L752.1 195.0M747.0 202.0 L741.9 209.0M736.9 216.0 L732.3 222.5M727.3 229.5 L722.3 236.5M717.3 243.5 L712.7 250.0M707.8 257.0 L702.8 264.0M698.3 270.5 L693.4 277.5M688.8 284.0 L684.0 291.0M679.5 297.5 L674.6 304.5M670.1 311.0 L665.3 318.0M660.9 324.5 L656.1 331.5M651.7 338.0 L647.3 344.5M642.6 351.5 L638.5 357.5M633.8 364.5 L629.8 370.5M625.1 377.5 L620.8 384.0M616.5 390.5 L612.2 397.0M607.9 403.5 L603.7 410.0M599.4 416.5 L595.2 423.0M591.0 429.5 L586.8 436.0M582.6 442.5 L578.4 449.0M574.3 455.5 L570.1 462.0M566.0 468.5 L562.2 474.5M557.8 481.5 L554.1 487.5M550.0 494.0 L546.0 500.5" stroke="#4b0082" stroke-width="0.99" fill="none"/>
<path d="M856.8 78.0 L851.6 85.0M846.4 92.0 L841.6 98.5M836.1 106.0 L831.3 112.5M826.1 119.5 L821.0 126.5M815.9 133.5 L811.1 140.0M806.1 147.0 L801.0 154.0M795.9 161.0 L791.2 167.5M786.2 174.5 L781.2 181.5M776.2 188.5 L771.5 195.0M766.6 202.0 L761.6 209.0M756.7 216.0 L752.1 222.5M747.2 229.5 L742.3 236.5M737.4 243.5 L732.9 250.0M728.0 257.0 L723.2 264.0M718.7 270.5 L713.9 277.5M709.4 284.0 L704.7 291.0M700.2 297.5 L695.5 304.5M691.1 311.0 L686.4 318.0M682.0 324.5 L677.3 331.5M673.0 338.0 L668.7 344.5M664.0 351.5 L660.1 357.5M655.5 364.5 L651.5 370.5M647.0 377.5 L642.7 384.0M638.5 390.5 L634.3 397.0M630.2 403.5 L626.0 410.0M621.8 416.5 L617.7 423.0M613.6 429.5 L609.5 436.0M605.4 442.5 L601.3 449.0M597.3 455.5 L593.2 462.0M589.2 468.5 L585.5 474.5M581.2 481.5 L577.5 487.5M573.6 494.0 L569.6 500.5" stroke="#4b0082" stroke-width="0.99" fill="none"/>
<path d="M880.8 78.0 L875.6 85.0M870.5 92.0 L865.8 98.5M860.4 106.0 L855.7 112.5M850.7 119.5 L845.6 126.5M840.6 133.5 L836.0 140.0M831.0 147.0 L826.0 154.0M821.1 161.0 L816.5 167.5M811.6 174.5 L806.7 181.5M801.8 188.5 L797.2 195.0M792.4 202.0 L787.5 209.0M782.7 216.0 L778.2 222.5M773.4 229.5 L768.6 236.5M763.9 243.5 L759.4 250.0M754.7 257.0 L750.0 264.0M745.6 270.5 L740.9 277.5M736.6 284.0 L731.9 291.0M727.6 297.5 L723.0 304.5M718.7 311.0 L714.1 318.0M709.9 324.5 L705.3 331.5M701.1 338.0 L696.9 344.5M692.4 351.5 L688.5 357.5M684.1 364.5 L680.2 370.5M675.8 377.5 L671.7 384.0M667.6 390.5 L663.5 397.0M659.5 403.5 L655.4 410.0M651.4 416.5 L647.4 423.0M643.4 429.5 L639.4 436.0M635.5 442.5 L631.5 449.0M627.6 455.5 L623.7 462.0M619.8 468.5 L616.3 474.5M612.1 481.5 L608.6 487.5M604.7 494.0 L600.9 500.5" stroke="#4b0082" stroke-width="0.99" fill="none"/>
<path d="M899.7 78.0 L894.6 85.0M889.6 92.0 L885.0 98.5M879.6 106.0 L875.0 112.5M870.1 119.5 L865.1 126.5M860.2 133.5 L855.6 140.0M850.7 147.0 L845.9 154.0M841.0 161.0 L836.5 167.5M831.6 174.5 L826.8 181.5M822.0 188.5 L817.6 195.0M812.8 202.0 L808.0 209.0M803.3 216.0 L798.9 222.5M794.2 229.5 L789.5 236.5M784.8 243.5 L780.5 250.0M775.8 257.0 L771.2 264.0M766.9 270.5 L762.3 277.5M758.1 284.0 L753.5 291.0M749.3 297.5 L744.8 304.5M740.6 311.0 L736.1 318.0M731.9 324.5 L727.5 331.5M723.4 338.0 L719.3 344.5M714.9 351.5 L711.1 357.5M706.7 364.5 L703.0 370.5M698.7 377.5 L694.7 384.0M690.7 390.5 L686.7 397.0M682.7 403.5 L678.8 410.0M674.9 416.5 L671.0 423.0M667.1 429.5 L663.2 436.0M659.4 442.5 L655.5 449.0M651.7 455.5 L647.9 462.0M644.1 468.5 L640.6 474.5M636.6 481.5 L633.2 487.5M629.5 494.0 L625.8 500.5" stroke="#4b0082" stroke-width="0.99" fill="none"/>
<path d="M915.4 78.0 L910.4 85.0M905.4 92.0 L900.9 98.5M895.6 106.0 L891.0 112.5M886.1 119.5 L881.3 126.5M876.4 133.5 L871.9 140.0M867.1 147.0 L862.3 154.0M857.5 161.0 L853.0 167.5M848.3 174.5 L843.5 181.5M838.8 188.5 L834.4 195.0M829.7 202.0 L825.0 209.0M820.4 216.0 L816.0 222.5M811.4 229.5 L806.8 236.5M802.2 243.5 L797.9 250.0M793.4 257.0 L788.8 264.0M784.6 270.5 L780.1 277.5M775.9 284.0 L771.4 291.0M767.3 297.5 L762.9 304.5M758.7 311.0 L754.3 318.0M750.3 324.5 L745.9 331.5M741.8 338.0 L737.8 344.5M733.5 351.5 L729.8 357.5M725.5 364.5 L721.9 370.5M717.6 377.5 L713.7 384.0M709.8 390.5 L705.9 397.0M702.0 403.5 L698.2 410.0M694.4 416.5 L690.5 423.0M686.7 429.5 L682.9 436.0M679.2 442.5 L675.4 449.0M671.7 455.5 L668.0 462.0M664.3 468.5 L660.9 474.5M657.0 481.5 L653.6 487.5M650.0 494.0 L646.4 500.5" stroke="#4b0082" stroke-width="0.99" fill="none"/>
<path d="M928.7 78.0 L923.8 85.0M918.9 92.0 L914.4 98.5M909.2 106.0 L904.7 112.5M899.9 119.5 L895.1 126.5M890.3 133.5 L885.8 140.0M881.1 147.0 L876.3 154.0M871.6 161.0 L867.2 167.5M862.5 174.5 L857.8 181.5M853.1 188.5 L848.8 195.0M844.2 202.0 L839.6 209.0M835.0 216.0 L830.7 222.5M826.1 229.5 L821.6 236.5M817.1 243.5 L812.9 250.0M808.4 257.0 L803.9 264.0M799.7 270.5 L795.3 277.5M791.2 284.0 L786.8 291.0M782.7 297.5 L778.3 304.5M774.3 311.0 L769.9 318.0M765.9 324.5 L761.6 331.5M757.7 338.0 L753.7 344.5M749.5 351.5 L745.8 357.5M741.6 364.5 L738.0 370.5M733.9 377.5 L730.0 384.0M726.2 390.5 L722.4 397.0M718.6 403.5 L714.8 410.0M711.0 416.5 L707.3 423.0M703.6 429.5 L699.8 436.0M696.2 442.5 L692.5 449.0M688.8 455.5 L685.2 462.0M681.6 468.5 L678.3 474.5M674.4 481.5 L671.1 487.5M667.6 494.0 L664.1 500.5" stroke="#4b0082" stroke-width="0.99" fill="none"/>
<path d="M940.4 78.0 L935.6 85.0M930.7 92.0 L926.3 98.5M921.1 106.0 L916.7 112.5M911.9 119.5 L907.1 126.5M902.4 133.5 L898.0 140.0M893.3 147.0 L888.6 154.0M883.9 161.0 L879.6 167.5M874.9 174.5 L870.3 181.5M865.7 188.5 L861.4 195.0M856.8 202.0 L852.3 209.0M847.7 216.0 L843.5 222.5M839.0 229.5 L834.5 236.5M830.0 243.5 L825.9 250.0M821.5 257.0 L817.0 264.0M813.0 270.5 L808.6 277.5M804.5 284.0 L800.2 291.0M796.1 297.5 L791.8 304.5M787.9 311.0 L783.6 318.0M779.6 324.5 L775.4 331.5M771.5 338.0 L767.6 344.5M763.4 351.5 L759.8 357.5M755.7 364.5 L752.2 370.5M748.1 377.5 L744.3 384.0M740.5 390.5 L736.8 397.0M733.0 403.5 L729.3 410.0M725.6 416.5 L721.9 423.0M718.3 429.5 L714.6 436.0M711.0 442.5 L707.4 449.0M703.8 455.5 L700.3 462.0M696.7 468.5 L693.5 474.5M689.7 481.5 L686.5 487.5M683.0 494.0 L679.6 500.5" stroke="#4b0082" stroke-width="0.99" fill="none"/>
</g>
<g shape-rendering="crispEdges">
<path d="M87.0 74.5 H697.0" stroke="#000" stroke-width="1"/>
<path d="M87.0 201.5 H697.0" stroke="#000" stroke-width="1"/>
<path d="M87.0 275.5 H697.0" stroke="#000" stroke-width="1"/>
<path d="M87.0 327.5 H697.0" stroke="#000" stroke-width="1"/>
<path d="M87.0 368.5 H697.0" stroke="#000" stroke-width="1"/>
<path d="M87.0 401.5 H697.0" stroke="#000" stroke-width="1"/>
<path d="M87.0 429.5 H697.0" stroke="#000" stroke-width="1"/>
<path d="M87.0 453.5 H697.0" stroke="#000" stroke-width="1"/>
<path d="M87.0 475.5 H697.0" stroke="#000" stroke-width="1"/>
<path d="M87.0 494.5 H697.0" stroke="#000" stroke-width="1"/>
<path d="M87.0 503.5 H697.0" stroke="#000"/>
<path d="M87.5 74.0 V504.0" stroke="#000"/>
</g>
<g clip-path="url(#c)" shape-rendering="crispEdges" stroke-linejoin="round">
<path d="M470.0 74.0 L417.6 149.0" stroke="#ff0000" stroke-width="1.60" stroke-linecap="round" fill="none"/>
<path d="M417.6 149.0 L414.4 180.0" stroke="#ff0000" stroke-width="1.94" stroke-linecap="round" fill="none"/>
<path d="M414.4 180.0 L411.6 202.0" stroke="#ff0000" stroke-width="1.93" stroke-linecap="round" fill="none"/>
<path d="M411.6 202.0 L427.0 222.0" stroke="#ff0000" stroke-width="1.55" stroke-linecap="round" fill="none"/>
<path d="M427.0 222.0 L440.0 241.0" stroke="#ff0000" stroke-width="1.61" stroke-linecap="round" fill="none"/>
<path d="M440.0 241.0 L455.0 255.0" stroke="#ff0000" stroke-width="1.50" stroke-linecap="round" fill="none"/>
<path d="M455.0 255.0 L468.0 264.0" stroke="#ff0000" stroke-width="1.60" stroke-linecap="round" fill="none"/>
<path d="M468.0 264.0 L480.0 275.0" stroke="#ff0000" stroke-width="1.50" stroke-linecap="round" fill="none"/>
<path d="M480.0 275.0 L486.0 284.0" stroke="#ff0000" stroke-width="1.62" stroke-linecap="round" fill="none"/>
<path d="M486.0 284.0 L513.0 319.0" stroke="#ff0000" stroke-width="1.54" stroke-linecap="round" fill="none"/>
<path d="M513.0 319.0 L519.0 328.0" stroke="#ff0000" stroke-width="1.62" stroke-linecap="round" fill="none"/>
<path d="M519.0 328.0 L529.0 350.0" stroke="#ff0000" stroke-width="1.78" stroke-linecap="round" fill="none"/>
<path d="M529.0 350.0 L537.0 369.0" stroke="#ff0000" stroke-width="1.80" stroke-linecap="round" fill="none"/>
<path d="M537.0 369.0 L552.0 401.6" stroke="#ff0000" stroke-width="1.77" stroke-linecap="round" fill="none"/>
<path d="M552.0 401.6 L571.0 429.6" stroke="#ff0000" stroke-width="1.61" stroke-linecap="round" fill="none"/>
<path d="M571.0 429.6 L576.0 453.0" stroke="#ff0000" stroke-width="1.91" stroke-linecap="round" fill="none"/>
<path d="M576.0 453.0 L579.2 465.2" stroke="#ff0000" stroke-width="1.89" stroke-linecap="round" fill="none"/>
<path d="M579.2 465.2 L565.2 478.6" stroke="#ff0000" stroke-width="1.50" stroke-linecap="round" fill="none"/>
<path d="M369.6 74.0 L362.0 149.0" stroke="#0000ff" stroke-width="1.94" stroke-linecap="round" fill="none"/>
<path d="M362.0 149.0 L372.0 170.0" stroke="#0000ff" stroke-width="1.76" stroke-linecap="round" fill="none"/>
<path d="M372.0 170.0 L387.6 201.0" stroke="#0000ff" stroke-width="1.74" stroke-linecap="round" fill="none"/>
<path d="M387.6 201.0 L403.0 215.6" stroke="#0000ff" stroke-width="1.50" stroke-linecap="round" fill="none"/>
<path d="M403.0 215.6 L417.0 229.0" stroke="#0000ff" stroke-width="1.50" stroke-linecap="round" fill="none"/>
<path d="M417.0 229.0 L431.0 242.0" stroke="#0000ff" stroke-width="1.50" stroke-linecap="round" fill="none"/>
<path d="M431.0 242.0 L450.0 260.0" stroke="#0000ff" stroke-width="1.50" stroke-linecap="round" fill="none"/>
<path d="M450.0 260.0 L466.0 275.0" stroke="#0000ff" stroke-width="1.50" stroke-linecap="round" fill="none"/>
<path d="M466.0 275.0 L467.0 277.0" stroke="#0000ff" stroke-width="1.74" stroke-linecap="round" fill="none"/>
<path d="M467.0 277.0 L477.0 297.0" stroke="#0000ff" stroke-width="1.74" stroke-linecap="round" fill="none"/>
<path d="M477.0 297.0 L492.4 328.0" stroke="#0000ff" stroke-width="1.75" stroke-linecap="round" fill="none"/>
<path d="M492.4 328.0 L492.4 335.0" stroke="#0000ff" stroke-width="1.95" stroke-linecap="round" fill="none"/>
<path d="M492.4 335.0 L492.0 369.0" stroke="#0000ff" stroke-width="1.95" stroke-linecap="round" fill="none"/>
<path d="M492.0 369.0 L491.2 401.6" stroke="#0000ff" stroke-width="1.95" stroke-linecap="round" fill="none"/>
<path d="M491.2 401.6 L498.4 429.6" stroke="#0000ff" stroke-width="1.89" stroke-linecap="round" fill="none"/>
<path d="M498.4 429.6 L506.0 440.0" stroke="#0000ff" stroke-width="1.57" stroke-linecap="round" fill="none"/>
<path d="M506.0 440.0 L525.2 465.2" stroke="#0000ff" stroke-width="1.55" stroke-linecap="round" fill="none"/>
<path d="M525.2 465.2 L542.0 478.6" stroke="#0000ff" stroke-width="1.52" stroke-linecap="round" fill="none"/>
<path d="M542.0 478.6 L567.3 496.8" stroke="#0000ff" stroke-width="1.58" stroke-linecap="round" fill="none"/>
<path d="M257.0 74.0 L286.0 115.0" stroke="#4b0082" stroke-width="1.59" stroke-linecap="round" fill="none"/>
<path d="M286.0 115.0 L311.0 150.0" stroke="#4b0082" stroke-width="1.59" stroke-linecap="round" fill="none"/>
<path d="M311.0 150.0 L339.0 181.0" stroke="#4b0082" stroke-width="1.50" stroke-linecap="round" fill="none"/>
<path d="M339.0 181.0 L371.0 214.0" stroke="#4b0082" stroke-width="1.50" stroke-linecap="round" fill="none"/>
<path d="M371.0 214.0 L387.0 229.0" stroke="#4b0082" stroke-width="1.50" stroke-linecap="round" fill="none"/>
<path d="M387.0 229.0 L402.0 243.0" stroke="#4b0082" stroke-width="1.50" stroke-linecap="round" fill="none"/>
<path d="M402.0 243.0 L420.0 260.0" stroke="#4b0082" stroke-width="1.50" stroke-linecap="round" fill="none"/>
<path d="M420.0 260.0 L435.0 275.0" stroke="#4b0082" stroke-width="1.50" stroke-linecap="round" fill="none"/>
<path d="M435.0 275.0 L492.0 332.0" stroke="#4b0082" stroke-width="1.50" stroke-linecap="round" fill="none"/>
<path d="M492.0 332.0 L520.0 369.0" stroke="#4b0082" stroke-width="1.55" stroke-linecap="round" fill="none"/>
<path d="M520.0 369.0 L539.0 403.0" stroke="#4b0082" stroke-width="1.70" stroke-linecap="round" fill="none"/>
<path d="M539.0 403.0 L549.6 429.6" stroke="#4b0082" stroke-width="1.81" stroke-linecap="round" fill="none"/>
<path d="M549.6 429.6 L556.8 452.6" stroke="#4b0082" stroke-width="1.86" stroke-linecap="round" fill="none"/>
<path d="M556.8 452.6 L562.0 466.0" stroke="#4b0082" stroke-width="1.82" stroke-linecap="round" fill="none"/>
<path d="M562.0 466.0 L564.5 479.3" stroke="#4b0082" stroke-width="1.92" stroke-linecap="round" fill="none"/>
<path d="M564.5 479.3 L568.7 496.8" stroke="#4b0082" stroke-width="1.90" stroke-linecap="round" fill="none"/>
<rect x="563" y="478" width="3" height="3" fill="#4b0082"/><rect x="567" y="495" width="3" height="3" fill="#4b0082"/>
</g>
<g>
<text y="52.0" font-size="16" fill="#000" stroke="#fff" stroke-width="0.4"><tspan x="84.7" textLength="38.7" lengthAdjust="spacingAndGlyphs">AIRS </tspan><tspan x="126.7" textLength="50.5" lengthAdjust="spacingAndGlyphs">SkewT </tspan><tspan x="182.6" textLength="68.1" lengthAdjust="spacingAndGlyphs">Diagram </tspan><tspan x="256.7" textLength="39.3" lengthAdjust="spacingAndGlyphs">2010</tspan><tspan x="296.1" textLength="17.1" lengthAdjust="spacingAndGlyphs">-</tspan><tspan x="311.8" textLength="16.9" lengthAdjust="spacingAndGlyphs">09</tspan><tspan x="328.8" textLength="15.7" lengthAdjust="spacingAndGlyphs">-</tspan><tspan x="342.7" textLength="130.1" lengthAdjust="spacingAndGlyphs">20/14:04:48.20 </tspan><tspan x="478.2" textLength="73.6" lengthAdjust="spacingAndGlyphs">(Lat/Lon </tspan><tspan x="555.7" textLength="119.1" lengthAdjust="spacingAndGlyphs">37.37/170.67 </tspan><tspan x="676.7" textLength="35.1" lengthAdjust="spacingAndGlyphs">deg)</tspan></text>
<text y="66.1" font-size="10.3" fill="#ff0000"><tspan x="112.9" textLength="8.3" lengthAdjust="spacingAndGlyphs" stroke="#ff0000" stroke-width="0.3">-</tspan><tspan x="121.0" textLength="21.7" lengthAdjust="spacingAndGlyphs">120</tspan></text>
<text y="66.1" font-size="10.3" fill="#ff0000"><tspan x="180.6" textLength="8.3" lengthAdjust="spacingAndGlyphs" stroke="#ff0000" stroke-width="0.3">-</tspan><tspan x="188.8" textLength="21.7" lengthAdjust="spacingAndGlyphs">110</tspan></text>
<text y="66.1" font-size="10.3" fill="#ff0000"><tspan x="248.4" textLength="8.3" lengthAdjust="spacingAndGlyphs" stroke="#ff0000" stroke-width="0.3">-</tspan><tspan x="256.5" textLength="21.7" lengthAdjust="spacingAndGlyphs">100</tspan></text>
<text y="66.1" font-size="10.3" fill="#ff0000"><tspan x="322.7" textLength="8.3" lengthAdjust="spacingAndGlyphs" stroke="#ff0000" stroke-width="0.3">-</tspan><tspan x="330.9" textLength="14.5" lengthAdjust="spacingAndGlyphs">90</tspan></text>
<text y="66.1" font-size="10.3" fill="#ff0000"><tspan x="390.5" textLength="8.3" lengthAdjust="spacingAndGlyphs" stroke="#ff0000" stroke-width="0.3">-</tspan><tspan x="398.6" textLength="14.5" lengthAdjust="spacingAndGlyphs">80</tspan></text>
<text y="66.1" font-size="10.3" fill="#ff0000"><tspan x="458.2" textLength="8.3" lengthAdjust="spacingAndGlyphs" stroke="#ff0000" stroke-width="0.3">-</tspan><tspan x="466.4" textLength="14.5" lengthAdjust="spacingAndGlyphs">70</tspan></text>
<text y="66.1" font-size="10.3" fill="#ff0000"><tspan x="526.0" textLength="8.3" lengthAdjust="spacingAndGlyphs" stroke="#ff0000" stroke-width="0.3">-</tspan><tspan x="534.1" textLength="14.5" lengthAdjust="spacingAndGlyphs">60</tspan></text>
<text y="66.1" font-size="10.3" fill="#ff0000"><tspan x="593.7" textLength="8.3" lengthAdjust="spacingAndGlyphs" stroke="#ff0000" stroke-width="0.3">-</tspan><tspan x="601.9" textLength="14.5" lengthAdjust="spacingAndGlyphs">50</tspan></text>
<text y="66.1" font-size="10.3" fill="#ff0000"><tspan x="661.5" textLength="8.3" lengthAdjust="spacingAndGlyphs" stroke="#ff0000" stroke-width="0.3">-</tspan><tspan x="669.6" textLength="14.5" lengthAdjust="spacingAndGlyphs">40</tspan></text>
<text y="516.7" font-size="10.6" fill="#ff0000"><tspan x="86.8" textLength="8.3" lengthAdjust="spacingAndGlyphs" stroke="#ff0000" stroke-width="0.3">-</tspan><tspan x="94.8" textLength="14.9" lengthAdjust="spacingAndGlyphs">50</tspan></text>
<text y="516.7" font-size="10.6" fill="#ff0000"><tspan x="154.6" textLength="8.3" lengthAdjust="spacingAndGlyphs" stroke="#ff0000" stroke-width="0.3">-</tspan><tspan x="162.6" textLength="14.9" lengthAdjust="spacingAndGlyphs">40</tspan></text>
<text y="516.7" font-size="10.6" fill="#ff0000"><tspan x="222.3" textLength="8.3" lengthAdjust="spacingAndGlyphs" stroke="#ff0000" stroke-width="0.3">-</tspan><tspan x="230.3" textLength="14.9" lengthAdjust="spacingAndGlyphs">30</tspan></text>
<text y="516.7" font-size="10.6" fill="#ff0000"><tspan x="290.1" textLength="8.3" lengthAdjust="spacingAndGlyphs" stroke="#ff0000" stroke-width="0.3">-</tspan><tspan x="298.1" textLength="14.9" lengthAdjust="spacingAndGlyphs">20</tspan></text>
<text y="516.7" font-size="10.6" fill="#ff0000"><tspan x="357.8" textLength="8.3" lengthAdjust="spacingAndGlyphs" stroke="#ff0000" stroke-width="0.3">-</tspan><tspan x="365.8" textLength="14.9" lengthAdjust="spacingAndGlyphs">10</tspan></text>
<text y="516.7" font-size="10.6" fill="#ff0000"><tspan x="433.1" textLength="7.4" lengthAdjust="spacingAndGlyphs">0</tspan></text>
<text y="516.7" font-size="10.6" fill="#ff0000"><tspan x="497.1" textLength="14.0" lengthAdjust="spacingAndGlyphs">10</tspan></text>
<text y="516.7" font-size="10.6" fill="#ff0000"><tspan x="564.9" textLength="14.0" lengthAdjust="spacingAndGlyphs">20</tspan></text>
<text y="516.7" font-size="10.6" fill="#ff0000"><tspan x="632.6" textLength="14.0" lengthAdjust="spacingAndGlyphs">30</tspan></text>
<text y="516.7" font-size="10.6" fill="#ff0000"><tspan x="676.9" textLength="22.1" lengthAdjust="spacingAndGlyphs">T(C)</tspan></text>
<text y="74.7" font-size="10.3" fill="#000"><tspan x="47.7" textLength="20.0" lengthAdjust="spacingAndGlyphs">100</tspan></text>
<text y="201.7" font-size="10.3" fill="#000"><tspan x="47.7" textLength="20.0" lengthAdjust="spacingAndGlyphs">200</tspan></text>
<text y="275.7" font-size="10.3" fill="#000"><tspan x="47.7" textLength="20.0" lengthAdjust="spacingAndGlyphs">300</tspan></text>
<text y="327.7" font-size="10.3" fill="#000"><tspan x="47.7" textLength="20.0" lengthAdjust="spacingAndGlyphs">400</tspan></text>
<text y="368.7" font-size="10.3" fill="#000"><tspan x="47.7" textLength="20.0" lengthAdjust="spacingAndGlyphs">500</tspan></text>
<text y="401.7" font-size="10.3" fill="#000"><tspan x="47.7" textLength="20.0" lengthAdjust="spacingAndGlyphs">600</tspan></text>
<text y="429.7" font-size="10.3" fill="#000"><tspan x="47.7" textLength="20.0" lengthAdjust="spacingAndGlyphs">700</tspan></text>
<text y="453.7" font-size="10.3" fill="#000"><tspan x="47.7" textLength="20.0" lengthAdjust="spacingAndGlyphs">800</tspan></text>
<text y="475.7" font-size="10.3" fill="#000"><tspan x="47.7" textLength="20.0" lengthAdjust="spacingAndGlyphs">900</tspan></text>
<text y="494.7" font-size="10.3" fill="#000"><tspan x="42.4" textLength="25.3" lengthAdjust="spacingAndGlyphs">1000</tspan></text>
<text transform="translate(82.4 332.3) rotate(-90)" font-size="14.5" fill="#000" stroke="#fff" stroke-width="0.3"><tspan x="-0.7" textLength="72.6" lengthAdjust="spacingAndGlyphs">PRESSURE </tspan><tspan x="75.2" textLength="29.8" lengthAdjust="spacingAndGlyphs">(MB)</tspan></text>
<text y="84.5" font-size="12.6" fill="#000" stroke="#fff" stroke-width="0.15"><tspan x="700.4" textLength="45.3" lengthAdjust="spacingAndGlyphs">TP:100</tspan></text>
<text y="100.2" font-size="12.6" fill="#000" stroke="#fff" stroke-width="0.15"><tspan x="700.4" textLength="51.3" lengthAdjust="spacingAndGlyphs">MW:N/A</tspan></text>
<text y="115.9" font-size="12.6" fill="#000" stroke="#fff" stroke-width="0.15"><tspan x="700.4" textLength="53.3" lengthAdjust="spacingAndGlyphs">FRZ:592</tspan></text>
<text y="131.6" font-size="12.6" fill="#000" stroke="#fff" stroke-width="0.15"><tspan x="699.4" textLength="57.3" lengthAdjust="spacingAndGlyphs">WB0:676</tspan></text>
<text y="147.3" font-size="12.6" fill="#000" stroke="#fff" stroke-width="0.15"><tspan x="699.4" textLength="61.3" lengthAdjust="spacingAndGlyphs">PW:25.84</tspan></text>
<text y="163.0" font-size="12.6" fill="#000" stroke="#fff" stroke-width="0.15"><tspan x="700.4" textLength="51.3" lengthAdjust="spacingAndGlyphs">RH:61.8</tspan></text>
<text y="178.7" font-size="12.6" fill="#000" stroke="#fff" stroke-width="0.15"><tspan x="699.0" textLength="65.7" lengthAdjust="spacingAndGlyphs">MAXT:29.3</tspan></text>
<text y="194.4" font-size="12.6" fill="#000" stroke="#fff" stroke-width="0.15"><tspan x="700.4" textLength="53.3" lengthAdjust="spacingAndGlyphs">TH:5463</tspan></text>
<text y="210.1" font-size="12.6" fill="#000" stroke="#fff" stroke-width="0.15"><tspan x="700.4" textLength="49.3" lengthAdjust="spacingAndGlyphs">L57:6.2</tspan></text>
<text y="225.8" font-size="12.6" fill="#000" stroke="#fff" stroke-width="0.15"><tspan x="699.0" textLength="61.3" lengthAdjust="spacingAndGlyphs">LCL:1013</tspan></text>
<text y="241.5" font-size="12.6" fill="#000" stroke="#fff" stroke-width="0.15"><tspan x="702.4" textLength="35.3" lengthAdjust="spacingAndGlyphs">LI:2.6</tspan></text>
<text y="257.2" font-size="12.6" fill="#000" stroke="#fff" stroke-width="0.15"><tspan x="701.0" textLength="37.7" lengthAdjust="spacingAndGlyphs">SI:5.4</tspan></text>
<text y="272.9" font-size="12.6" fill="#000" stroke="#fff" stroke-width="0.15"><tspan x="700.4" textLength="46.9" lengthAdjust="spacingAndGlyphs">TT:39.0</tspan></text>
<text y="288.6" font-size="12.6" fill="#000" stroke="#fff" stroke-width="0.15"><tspan x="701.0" textLength="42.1" lengthAdjust="spacingAndGlyphs">KI:293</tspan></text>
<text y="304.3" font-size="12.6" fill="#000" stroke="#fff" stroke-width="0.15"><tspan x="700.4" textLength="49.3" lengthAdjust="spacingAndGlyphs">SW:N/A</tspan></text>
<text y="320.0" font-size="12.6" fill="#000" stroke="#fff" stroke-width="0.15"><tspan x="702.4" textLength="35.9" lengthAdjust="spacingAndGlyphs">EI:0.2</tspan></text>
<text y="335.7" font-size="12.6" fill="#000" stroke="#fff" stroke-width="0.15"><tspan x="697.7" textLength="11.9" lengthAdjust="spacingAndGlyphs" stroke="#000" stroke-width="0.3">-</tspan><tspan x="709.2" textLength="49.1" lengthAdjust="spacingAndGlyphs">PARCEL</tspan><tspan x="757.6" textLength="11.7" lengthAdjust="spacingAndGlyphs" stroke="#000" stroke-width="0.3">-</tspan></text>
<text y="351.4" font-size="12.6" fill="#000" stroke="#fff" stroke-width="0.15"><tspan x="700.4" textLength="46.3" lengthAdjust="spacingAndGlyphs">CAPE:0</tspan></text>
<text y="367.1" font-size="12.6" fill="#000" stroke="#fff" stroke-width="0.15"><tspan x="701.0" textLength="43.3" lengthAdjust="spacingAndGlyphs">CINH:0</tspan></text>
<text y="382.8" font-size="12.6" fill="#000" stroke="#fff" stroke-width="0.15"><tspan x="699.0" textLength="61.3" lengthAdjust="spacingAndGlyphs">LCL:1013</tspan></text>
<text y="398.5" font-size="12.6" fill="#000" stroke="#fff" stroke-width="0.15"><tspan x="700.4" textLength="50.7" lengthAdjust="spacingAndGlyphs">CAP:0.0</tspan></text>
<text y="414.2" font-size="12.6" fill="#000" stroke="#fff" stroke-width="0.15"><tspan x="699.0" textLength="62.1" lengthAdjust="spacingAndGlyphs">LFC:1000</tspan></text>
<text y="429.9" font-size="12.6" fill="#000" stroke="#fff" stroke-width="0.15"><tspan x="701.0" textLength="44.7" lengthAdjust="spacingAndGlyphs">EL:925</tspan></text>
<text y="445.6" font-size="12.6" fill="#000" stroke="#fff" stroke-width="0.15"><tspan x="700.4" textLength="55.3" lengthAdjust="spacingAndGlyphs">MPL:914</tspan></text>
<text y="461.3" font-size="12.6" fill="#000" stroke="#fff" stroke-width="0.15"><tspan x="699.3" textLength="11.9" lengthAdjust="spacingAndGlyphs" stroke="#000" stroke-width="0.3">-</tspan><tspan x="710.8" textLength="31.5" lengthAdjust="spacingAndGlyphs">WIND</tspan><tspan x="741.6" textLength="11.7" lengthAdjust="spacingAndGlyphs" stroke="#000" stroke-width="0.3">-</tspan></text>
<text y="477.0" font-size="12.6" fill="#000" stroke="#fff" stroke-width="0.15"><tspan x="703.4" textLength="25.3" lengthAdjust="spacingAndGlyphs">NOT</tspan></text>
<text y="492.7" font-size="12.6" fill="#000" stroke="#fff" stroke-width="0.15"><tspan x="701.4" textLength="34.3" lengthAdjust="spacingAndGlyphs">AVAIL</tspan></text>
<text x="142.4" y="526.5" font-size="10.6" fill="#4b0082" text-anchor="middle" transform="rotate(-45 142.4 523.0)">0.1</text>
<text x="188.7" y="526.5" font-size="10.6" fill="#4b0082" text-anchor="middle" transform="rotate(-45 188.7 523.0)">0.2</text>
<text x="253.0" y="526.5" font-size="10.6" fill="#4b0082" text-anchor="middle" transform="rotate(-45 253.0 523.0)">0.5</text>
<text x="307.0" y="526.5" font-size="10.6" fill="#4b0082" text-anchor="middle" transform="rotate(-45 307.0 523.0)">1</text>
<text x="340.0" y="526.5" font-size="10.6" fill="#4b0082" text-anchor="middle" transform="rotate(-45 340.0 523.0)">1.5</text>
<text x="365.0" y="526.5" font-size="10.6" fill="#4b0082" text-anchor="middle" transform="rotate(-45 365.0 523.0)">2</text>
<text x="400.0" y="526.5" font-size="10.6" fill="#4b0082" text-anchor="middle" transform="rotate(-45 400.0 523.0)">3</text>
<text x="427.0" y="526.5" font-size="10.6" fill="#4b0082" text-anchor="middle" transform="rotate(-45 427.0 523.0)">4</text>
<text x="465.0" y="526.5" font-size="10.6" fill="#4b0082" text-anchor="middle" transform="rotate(-45 465.0 523.0)">6</text>
<text x="493.0" y="526.5" font-size="10.6" fill="#4b0082" text-anchor="middle" transform="rotate(-45 493.0 523.0)">8</text>
<text x="517.0" y="526.5" font-size="10.6" fill="#4b0082" text-anchor="middle" transform="rotate(-45 517.0 523.0)">10</text>
<text x="536.0" y="526.5" font-size="10.6" fill="#4b0082" text-anchor="middle" transform="rotate(-45 536.0 523.0)">12</text>
<text x="560.0" y="526.5" font-size="10.6" fill="#4b0082" text-anchor="middle" transform="rotate(-45 560.0 523.0)">15</text>
<text x="590.0" y="526.5" font-size="10.6" fill="#4b0082" text-anchor="middle" transform="rotate(-45 590.0 523.0)">20</text>
<text x="615.0" y="526.5" font-size="10.6" fill="#4b0082" text-anchor="middle" transform="rotate(-45 615.0 523.0)">25</text>
<text x="636.0" y="526.5" font-size="10.6" fill="#4b0082" text-anchor="middle" transform="rotate(-45 636.0 523.0)">30</text>
<text x="667.0" y="526.5" font-size="10.6" fill="#4b0082" text-anchor="middle" transform="rotate(-45 667.0 523.0)">35</text>
<text x="669.5" y="526.5" font-size="10.6" fill="#4b0082" text-anchor="middle" transform="rotate(-45 669.5 523.0)">40</text>
<text y="526.8" font-size="10.6" fill="#4b0082"><tspan x="673.5" textLength="35.1" lengthAdjust="spacingAndGlyphs">(g/kg)</tspan></text>
</g>
</svg></body></html>
